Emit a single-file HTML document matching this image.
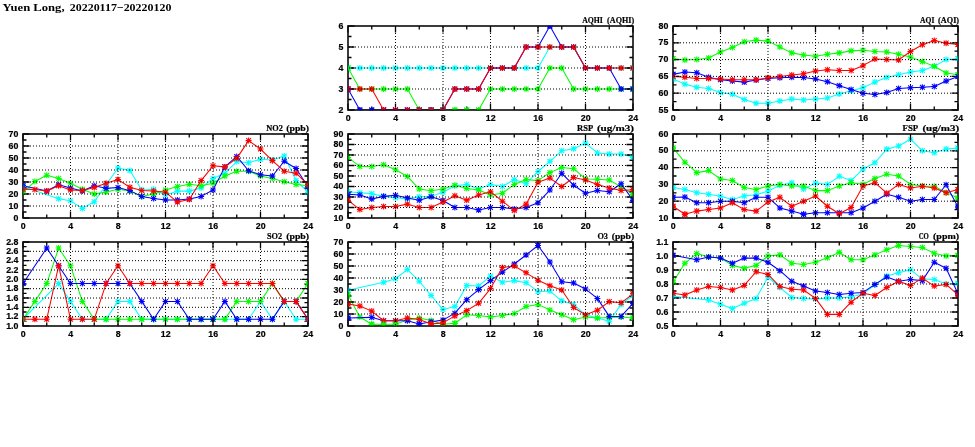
<!DOCTYPE html>
<html><head><meta charset="utf-8"><title>Yuen Long</title>
<style>
html,body{margin:0;padding:0;background:#fff;}
body{width:975px;height:447px;overflow:hidden;}
svg{display:block;will-change:transform;}
.t{font-family:"Liberation Sans",sans-serif;font-weight:bold;font-size:8.8px;fill:#000;stroke:#000;stroke-width:0.2;}
.p{font-family:"Liberation Serif",serif;font-weight:bold;font-size:8.8px;fill:#000;stroke:#000;stroke-width:0.2;}
.h{font-family:"Liberation Serif",serif;font-weight:bold;font-size:11.3px;fill:#000;}
.g{stroke:#000;stroke-width:1;stroke-dasharray:1 2;fill:none;}
.k{stroke:#000;stroke-width:1.3;fill:none;}
.b{stroke:#0a0a0a;stroke-width:1.6;fill:none;}
</style></head><body>
<svg width="975" height="447" viewBox="0 0 975 447">
<rect x="0" y="0" width="975" height="447" fill="#ffffff"/>
<defs>
<clipPath id="c_AQHI"><rect x="347.8" y="25.8" width="285.4" height="84.4"/></clipPath>
<clipPath id="e_AQHI"><rect x="348.45" y="26.45" width="284.1" height="83.1"/></clipPath>
<clipPath id="c_AQI"><rect x="672.8" y="25.8" width="285.4" height="84.4"/></clipPath>
<clipPath id="e_AQI"><rect x="673.45" y="26.45" width="284.1" height="83.1"/></clipPath>
<clipPath id="c_NO2"><rect x="22.8" y="133.8" width="285.4" height="84.4"/></clipPath>
<clipPath id="e_NO2"><rect x="23.45" y="134.45" width="284.1" height="83.1"/></clipPath>
<clipPath id="c_RSP"><rect x="347.8" y="133.8" width="285.4" height="84.4"/></clipPath>
<clipPath id="e_RSP"><rect x="348.45" y="134.45" width="284.1" height="83.1"/></clipPath>
<clipPath id="c_FSP"><rect x="672.8" y="133.8" width="285.4" height="84.4"/></clipPath>
<clipPath id="e_FSP"><rect x="673.45" y="134.45" width="284.1" height="83.1"/></clipPath>
<clipPath id="c_SO2"><rect x="22.8" y="241.8" width="285.4" height="84.4"/></clipPath>
<clipPath id="e_SO2"><rect x="23.45" y="242.45" width="284.1" height="83.1"/></clipPath>
<clipPath id="c_O3"><rect x="347.8" y="241.8" width="285.4" height="84.4"/></clipPath>
<clipPath id="e_O3"><rect x="348.45" y="242.45" width="284.1" height="83.1"/></clipPath>
<clipPath id="c_CO"><rect x="672.8" y="241.8" width="285.4" height="84.4"/></clipPath>
<clipPath id="e_CO"><rect x="673.45" y="242.45" width="284.1" height="83.1"/></clipPath>
</defs>
<text class="h" x="2.6" y="10.5" textLength="62" lengthAdjust="spacingAndGlyphs">Yuen Long,</text>
<text class="h" x="69.8" y="10.5" textLength="101.6" lengthAdjust="spacingAndGlyphs">20220117&#8722;20220120</text>
<g id="panel_AQHI">
<g clip-path="url(#c_AQHI)">
<polyline fill="none" stroke="#00ffff" stroke-width="1.05" stroke-linejoin="round" points="348,68 359.88,68 371.75,68 383.62,68 395.5,68 407.38,68 419.25,68 431.12,68 443,68 454.88,68 466.75,68 478.62,68 490.5,68 502.38,68 514.25,68 526.12,68 538,68 549.88,47 561.75,47 573.62,47 585.5,68 597.38,68 609.25,68 621.12,68 633,68"/>
<path fill="none" stroke="#00ffff" stroke-width="1.05" d="M348 68m-3 0h6m-3-3v6m-2.4-5.4l4.8 4.8m-4.8 0l4.8-4.8M359.88 68m-3 0h6m-3-3v6m-2.4-5.4l4.8 4.8m-4.8 0l4.8-4.8M371.75 68m-3 0h6m-3-3v6m-2.4-5.4l4.8 4.8m-4.8 0l4.8-4.8M383.62 68m-3 0h6m-3-3v6m-2.4-5.4l4.8 4.8m-4.8 0l4.8-4.8M395.5 68m-3 0h6m-3-3v6m-2.4-5.4l4.8 4.8m-4.8 0l4.8-4.8M407.38 68m-3 0h6m-3-3v6m-2.4-5.4l4.8 4.8m-4.8 0l4.8-4.8M419.25 68m-3 0h6m-3-3v6m-2.4-5.4l4.8 4.8m-4.8 0l4.8-4.8M431.12 68m-3 0h6m-3-3v6m-2.4-5.4l4.8 4.8m-4.8 0l4.8-4.8M443 68m-3 0h6m-3-3v6m-2.4-5.4l4.8 4.8m-4.8 0l4.8-4.8M454.88 68m-3 0h6m-3-3v6m-2.4-5.4l4.8 4.8m-4.8 0l4.8-4.8M466.75 68m-3 0h6m-3-3v6m-2.4-5.4l4.8 4.8m-4.8 0l4.8-4.8M478.62 68m-3 0h6m-3-3v6m-2.4-5.4l4.8 4.8m-4.8 0l4.8-4.8M490.5 68m-3 0h6m-3-3v6m-2.4-5.4l4.8 4.8m-4.8 0l4.8-4.8M502.38 68m-3 0h6m-3-3v6m-2.4-5.4l4.8 4.8m-4.8 0l4.8-4.8M514.25 68m-3 0h6m-3-3v6m-2.4-5.4l4.8 4.8m-4.8 0l4.8-4.8M526.12 68m-3 0h6m-3-3v6m-2.4-5.4l4.8 4.8m-4.8 0l4.8-4.8M538 68m-3 0h6m-3-3v6m-2.4-5.4l4.8 4.8m-4.8 0l4.8-4.8M549.88 47m-3 0h6m-3-3v6m-2.4-5.4l4.8 4.8m-4.8 0l4.8-4.8M561.75 47m-3 0h6m-3-3v6m-2.4-5.4l4.8 4.8m-4.8 0l4.8-4.8M573.62 47m-3 0h6m-3-3v6m-2.4-5.4l4.8 4.8m-4.8 0l4.8-4.8M585.5 68m-3 0h6m-3-3v6m-2.4-5.4l4.8 4.8m-4.8 0l4.8-4.8M597.38 68m-3 0h6m-3-3v6m-2.4-5.4l4.8 4.8m-4.8 0l4.8-4.8M609.25 68m-3 0h6m-3-3v6m-2.4-5.4l4.8 4.8m-4.8 0l4.8-4.8M621.12 68m-3 0h6m-3-3v6m-2.4-5.4l4.8 4.8m-4.8 0l4.8-4.8M633 68m-3 0h6m-3-3v6m-2.4-5.4l4.8 4.8m-4.8 0l4.8-4.8"/>
<polyline fill="none" stroke="#00ff00" stroke-width="1.05" stroke-linejoin="round" points="348,68 359.88,89 371.75,89 383.62,89 395.5,89 407.38,89 419.25,110 431.12,110 443,110 454.88,110 466.75,110 478.62,110 490.5,89 502.38,89 514.25,89 526.12,89 538,89 549.88,68 561.75,68 573.62,89 585.5,89 597.38,89 609.25,89 621.12,89 633,89"/>
<path fill="none" stroke="#00ff00" stroke-width="1.05" d="M348 68m-3 0h6m-3-3v6m-2.4-5.4l4.8 4.8m-4.8 0l4.8-4.8M359.88 89m-3 0h6m-3-3v6m-2.4-5.4l4.8 4.8m-4.8 0l4.8-4.8M371.75 89m-3 0h6m-3-3v6m-2.4-5.4l4.8 4.8m-4.8 0l4.8-4.8M383.62 89m-3 0h6m-3-3v6m-2.4-5.4l4.8 4.8m-4.8 0l4.8-4.8M395.5 89m-3 0h6m-3-3v6m-2.4-5.4l4.8 4.8m-4.8 0l4.8-4.8M407.38 89m-3 0h6m-3-3v6m-2.4-5.4l4.8 4.8m-4.8 0l4.8-4.8M419.25 110m-3 0h6m-3-3v6m-2.4-5.4l4.8 4.8m-4.8 0l4.8-4.8M431.12 110m-3 0h6m-3-3v6m-2.4-5.4l4.8 4.8m-4.8 0l4.8-4.8M443 110m-3 0h6m-3-3v6m-2.4-5.4l4.8 4.8m-4.8 0l4.8-4.8M454.88 110m-3 0h6m-3-3v6m-2.4-5.4l4.8 4.8m-4.8 0l4.8-4.8M466.75 110m-3 0h6m-3-3v6m-2.4-5.4l4.8 4.8m-4.8 0l4.8-4.8M478.62 110m-3 0h6m-3-3v6m-2.4-5.4l4.8 4.8m-4.8 0l4.8-4.8M490.5 89m-3 0h6m-3-3v6m-2.4-5.4l4.8 4.8m-4.8 0l4.8-4.8M502.38 89m-3 0h6m-3-3v6m-2.4-5.4l4.8 4.8m-4.8 0l4.8-4.8M514.25 89m-3 0h6m-3-3v6m-2.4-5.4l4.8 4.8m-4.8 0l4.8-4.8M526.12 89m-3 0h6m-3-3v6m-2.4-5.4l4.8 4.8m-4.8 0l4.8-4.8M538 89m-3 0h6m-3-3v6m-2.4-5.4l4.8 4.8m-4.8 0l4.8-4.8M549.88 68m-3 0h6m-3-3v6m-2.4-5.4l4.8 4.8m-4.8 0l4.8-4.8M561.75 68m-3 0h6m-3-3v6m-2.4-5.4l4.8 4.8m-4.8 0l4.8-4.8M573.62 89m-3 0h6m-3-3v6m-2.4-5.4l4.8 4.8m-4.8 0l4.8-4.8M585.5 89m-3 0h6m-3-3v6m-2.4-5.4l4.8 4.8m-4.8 0l4.8-4.8M597.38 89m-3 0h6m-3-3v6m-2.4-5.4l4.8 4.8m-4.8 0l4.8-4.8M609.25 89m-3 0h6m-3-3v6m-2.4-5.4l4.8 4.8m-4.8 0l4.8-4.8M621.12 89m-3 0h6m-3-3v6m-2.4-5.4l4.8 4.8m-4.8 0l4.8-4.8M633 89m-3 0h6m-3-3v6m-2.4-5.4l4.8 4.8m-4.8 0l4.8-4.8"/>
<polyline fill="none" stroke="#0000ff" stroke-width="1.05" stroke-linejoin="round" points="348,89 359.88,110 371.75,110 383.62,110 395.5,110 407.38,110 419.25,110 431.12,110 443,110 454.88,89 466.75,89 478.62,89 490.5,68 502.38,68 514.25,68 526.12,47 538,47 549.88,26 561.75,47 573.62,47 585.5,68 597.38,68 609.25,68 621.12,89 633,89"/>
<path fill="none" stroke="#0000ff" stroke-width="1.05" d="M348 89m-3 0h6m-3-3v6m-2.4-5.4l4.8 4.8m-4.8 0l4.8-4.8M359.88 110m-3 0h6m-3-3v6m-2.4-5.4l4.8 4.8m-4.8 0l4.8-4.8M371.75 110m-3 0h6m-3-3v6m-2.4-5.4l4.8 4.8m-4.8 0l4.8-4.8M383.62 110m-3 0h6m-3-3v6m-2.4-5.4l4.8 4.8m-4.8 0l4.8-4.8M395.5 110m-3 0h6m-3-3v6m-2.4-5.4l4.8 4.8m-4.8 0l4.8-4.8M407.38 110m-3 0h6m-3-3v6m-2.4-5.4l4.8 4.8m-4.8 0l4.8-4.8M419.25 110m-3 0h6m-3-3v6m-2.4-5.4l4.8 4.8m-4.8 0l4.8-4.8M431.12 110m-3 0h6m-3-3v6m-2.4-5.4l4.8 4.8m-4.8 0l4.8-4.8M443 110m-3 0h6m-3-3v6m-2.4-5.4l4.8 4.8m-4.8 0l4.8-4.8M454.88 89m-3 0h6m-3-3v6m-2.4-5.4l4.8 4.8m-4.8 0l4.8-4.8M466.75 89m-3 0h6m-3-3v6m-2.4-5.4l4.8 4.8m-4.8 0l4.8-4.8M478.62 89m-3 0h6m-3-3v6m-2.4-5.4l4.8 4.8m-4.8 0l4.8-4.8M490.5 68m-3 0h6m-3-3v6m-2.4-5.4l4.8 4.8m-4.8 0l4.8-4.8M502.38 68m-3 0h6m-3-3v6m-2.4-5.4l4.8 4.8m-4.8 0l4.8-4.8M514.25 68m-3 0h6m-3-3v6m-2.4-5.4l4.8 4.8m-4.8 0l4.8-4.8M526.12 47m-3 0h6m-3-3v6m-2.4-5.4l4.8 4.8m-4.8 0l4.8-4.8M538 47m-3 0h6m-3-3v6m-2.4-5.4l4.8 4.8m-4.8 0l4.8-4.8M549.88 26m-3 0h6m-3-3v6m-2.4-5.4l4.8 4.8m-4.8 0l4.8-4.8M561.75 47m-3 0h6m-3-3v6m-2.4-5.4l4.8 4.8m-4.8 0l4.8-4.8M573.62 47m-3 0h6m-3-3v6m-2.4-5.4l4.8 4.8m-4.8 0l4.8-4.8M585.5 68m-3 0h6m-3-3v6m-2.4-5.4l4.8 4.8m-4.8 0l4.8-4.8M597.38 68m-3 0h6m-3-3v6m-2.4-5.4l4.8 4.8m-4.8 0l4.8-4.8M609.25 68m-3 0h6m-3-3v6m-2.4-5.4l4.8 4.8m-4.8 0l4.8-4.8M621.12 89m-3 0h6m-3-3v6m-2.4-5.4l4.8 4.8m-4.8 0l4.8-4.8M633 89m-3 0h6m-3-3v6m-2.4-5.4l4.8 4.8m-4.8 0l4.8-4.8"/>
<polyline fill="none" stroke="#ff0000" stroke-width="1.05" stroke-linejoin="round" points="348,89 359.88,89 371.75,89 383.62,110 395.5,110 407.38,110 419.25,110 431.12,110 443,110 454.88,89 466.75,89 478.62,89 490.5,68 502.38,68 514.25,68 526.12,47 538,47 549.88,47 561.75,47 573.62,47 585.5,68 597.38,68 609.25,68 621.12,68 633,68"/>
<path fill="none" stroke="#ff0000" stroke-width="1.05" d="M348 89m-3 0h6m-3-3v6m-2.4-5.4l4.8 4.8m-4.8 0l4.8-4.8M359.88 89m-3 0h6m-3-3v6m-2.4-5.4l4.8 4.8m-4.8 0l4.8-4.8M371.75 89m-3 0h6m-3-3v6m-2.4-5.4l4.8 4.8m-4.8 0l4.8-4.8M383.62 110m-3 0h6m-3-3v6m-2.4-5.4l4.8 4.8m-4.8 0l4.8-4.8M395.5 110m-3 0h6m-3-3v6m-2.4-5.4l4.8 4.8m-4.8 0l4.8-4.8M407.38 110m-3 0h6m-3-3v6m-2.4-5.4l4.8 4.8m-4.8 0l4.8-4.8M419.25 110m-3 0h6m-3-3v6m-2.4-5.4l4.8 4.8m-4.8 0l4.8-4.8M431.12 110m-3 0h6m-3-3v6m-2.4-5.4l4.8 4.8m-4.8 0l4.8-4.8M443 110m-3 0h6m-3-3v6m-2.4-5.4l4.8 4.8m-4.8 0l4.8-4.8M454.88 89m-3 0h6m-3-3v6m-2.4-5.4l4.8 4.8m-4.8 0l4.8-4.8M466.75 89m-3 0h6m-3-3v6m-2.4-5.4l4.8 4.8m-4.8 0l4.8-4.8M478.62 89m-3 0h6m-3-3v6m-2.4-5.4l4.8 4.8m-4.8 0l4.8-4.8M490.5 68m-3 0h6m-3-3v6m-2.4-5.4l4.8 4.8m-4.8 0l4.8-4.8M502.38 68m-3 0h6m-3-3v6m-2.4-5.4l4.8 4.8m-4.8 0l4.8-4.8M514.25 68m-3 0h6m-3-3v6m-2.4-5.4l4.8 4.8m-4.8 0l4.8-4.8M526.12 47m-3 0h6m-3-3v6m-2.4-5.4l4.8 4.8m-4.8 0l4.8-4.8M538 47m-3 0h6m-3-3v6m-2.4-5.4l4.8 4.8m-4.8 0l4.8-4.8M549.88 47m-3 0h6m-3-3v6m-2.4-5.4l4.8 4.8m-4.8 0l4.8-4.8M561.75 47m-3 0h6m-3-3v6m-2.4-5.4l4.8 4.8m-4.8 0l4.8-4.8M573.62 47m-3 0h6m-3-3v6m-2.4-5.4l4.8 4.8m-4.8 0l4.8-4.8M585.5 68m-3 0h6m-3-3v6m-2.4-5.4l4.8 4.8m-4.8 0l4.8-4.8M597.38 68m-3 0h6m-3-3v6m-2.4-5.4l4.8 4.8m-4.8 0l4.8-4.8M609.25 68m-3 0h6m-3-3v6m-2.4-5.4l4.8 4.8m-4.8 0l4.8-4.8M621.12 68m-3 0h6m-3-3v6m-2.4-5.4l4.8 4.8m-4.8 0l4.8-4.8M633 68m-3 0h6m-3-3v6m-2.4-5.4l4.8 4.8m-4.8 0l4.8-4.8"/>
</g>
<path class="k" d="M348 110h6.5M633 110h-6.5M348 99.5h3.5M633 99.5h-3.5M348 89h6.5M633 89h-6.5M348 78.5h3.5M633 78.5h-3.5M348 68h6.5M633 68h-6.5M348 57.5h3.5M633 57.5h-3.5M348 47h6.5M633 47h-6.5M348 36.5h3.5M633 36.5h-3.5M348 26h6.5M633 26h-6.5M348 26v6.5M348 110v-6.5M371.75 26v3.5M371.75 110v-3.5M395.5 26v6.5M395.5 110v-6.5M419.25 26v3.5M419.25 110v-3.5M443 26v6.5M443 110v-6.5M466.75 26v3.5M466.75 110v-3.5M490.5 26v6.5M490.5 110v-6.5M514.25 26v3.5M514.25 110v-3.5M538 26v6.5M538 110v-6.5M561.75 26v3.5M561.75 110v-3.5M585.5 26v6.5M585.5 110v-6.5M609.25 26v3.5M609.25 110v-3.5M633 26v6.5M633 110v-6.5"/>
<rect class="b" x="348" y="26" width="285" height="84"/>
<g clip-path="url(#e_AQHI)">
<path fill="none" stroke="#00ffff" stroke-width="1.05" d="M348 68m-3 0h6m-3-3v6m-2.4-5.4l4.8 4.8m-4.8 0l4.8-4.8M633 68m-3 0h6m-3-3v6m-2.4-5.4l4.8 4.8m-4.8 0l4.8-4.8"/>
<path fill="none" stroke="#00ff00" stroke-width="1.05" d="M348 68m-3 0h6m-3-3v6m-2.4-5.4l4.8 4.8m-4.8 0l4.8-4.8M419.25 110m-3 0h6m-3-3v6m-2.4-5.4l4.8 4.8m-4.8 0l4.8-4.8M431.12 110m-3 0h6m-3-3v6m-2.4-5.4l4.8 4.8m-4.8 0l4.8-4.8M443 110m-3 0h6m-3-3v6m-2.4-5.4l4.8 4.8m-4.8 0l4.8-4.8M454.88 110m-3 0h6m-3-3v6m-2.4-5.4l4.8 4.8m-4.8 0l4.8-4.8M466.75 110m-3 0h6m-3-3v6m-2.4-5.4l4.8 4.8m-4.8 0l4.8-4.8M478.62 110m-3 0h6m-3-3v6m-2.4-5.4l4.8 4.8m-4.8 0l4.8-4.8M633 89m-3 0h6m-3-3v6m-2.4-5.4l4.8 4.8m-4.8 0l4.8-4.8"/>
<path fill="none" stroke="#0000ff" stroke-width="1.05" d="M348 89m-3 0h6m-3-3v6m-2.4-5.4l4.8 4.8m-4.8 0l4.8-4.8M359.88 110m-3 0h6m-3-3v6m-2.4-5.4l4.8 4.8m-4.8 0l4.8-4.8M371.75 110m-3 0h6m-3-3v6m-2.4-5.4l4.8 4.8m-4.8 0l4.8-4.8M383.62 110m-3 0h6m-3-3v6m-2.4-5.4l4.8 4.8m-4.8 0l4.8-4.8M395.5 110m-3 0h6m-3-3v6m-2.4-5.4l4.8 4.8m-4.8 0l4.8-4.8M407.38 110m-3 0h6m-3-3v6m-2.4-5.4l4.8 4.8m-4.8 0l4.8-4.8M419.25 110m-3 0h6m-3-3v6m-2.4-5.4l4.8 4.8m-4.8 0l4.8-4.8M431.12 110m-3 0h6m-3-3v6m-2.4-5.4l4.8 4.8m-4.8 0l4.8-4.8M443 110m-3 0h6m-3-3v6m-2.4-5.4l4.8 4.8m-4.8 0l4.8-4.8M549.88 26m-3 0h6m-3-3v6m-2.4-5.4l4.8 4.8m-4.8 0l4.8-4.8M633 89m-3 0h6m-3-3v6m-2.4-5.4l4.8 4.8m-4.8 0l4.8-4.8"/>
<path fill="none" stroke="#ff0000" stroke-width="1.05" d="M348 89m-3 0h6m-3-3v6m-2.4-5.4l4.8 4.8m-4.8 0l4.8-4.8M383.62 110m-3 0h6m-3-3v6m-2.4-5.4l4.8 4.8m-4.8 0l4.8-4.8M395.5 110m-3 0h6m-3-3v6m-2.4-5.4l4.8 4.8m-4.8 0l4.8-4.8M407.38 110m-3 0h6m-3-3v6m-2.4-5.4l4.8 4.8m-4.8 0l4.8-4.8M419.25 110m-3 0h6m-3-3v6m-2.4-5.4l4.8 4.8m-4.8 0l4.8-4.8M431.12 110m-3 0h6m-3-3v6m-2.4-5.4l4.8 4.8m-4.8 0l4.8-4.8M443 110m-3 0h6m-3-3v6m-2.4-5.4l4.8 4.8m-4.8 0l4.8-4.8M633 68m-3 0h6m-3-3v6m-2.4-5.4l4.8 4.8m-4.8 0l4.8-4.8"/>
</g>
<path class="g" d="M349 89H632M349 68H632M349 47H632M395.5 27V109M443 27V109M490.5 27V109M538 27V109M585.5 27V109"/>
<text class="t" text-anchor="end" x="343.4" y="112.55">2</text><text class="t" text-anchor="end" x="343.4" y="91.55">3</text><text class="t" text-anchor="end" x="343.4" y="70.55">4</text><text class="t" text-anchor="end" x="343.4" y="49.55">5</text><text class="t" text-anchor="end" x="343.4" y="28.55">6</text>
<text class="t" text-anchor="middle" x="348.2" y="120.8">0</text><text class="t" text-anchor="middle" x="395.7" y="120.8">4</text><text class="t" text-anchor="middle" x="443.2" y="120.8">8</text><text class="t" text-anchor="middle" x="490.7" y="120.8">12</text><text class="t" text-anchor="middle" x="538.2" y="120.8">16</text><text class="t" text-anchor="middle" x="585.7" y="120.8">20</text><text class="t" text-anchor="middle" x="633.2" y="120.8">24</text>
<text class="p" x="582.2" y="22.5" textLength="20.7" lengthAdjust="spacingAndGlyphs">AQHI</text><text class="p" x="607.1" y="22.5" textLength="27" lengthAdjust="spacingAndGlyphs">(AQHI)</text>
</g>
<g id="panel_AQI">
<g clip-path="url(#c_AQI)">
<polyline fill="none" stroke="#00ffff" stroke-width="1.05" stroke-linejoin="round" points="673,78.92 684.88,84.13 696.75,87.32 708.62,88.5 720.5,92.53 732.38,94.21 744.25,99.58 756.12,103.28 768,103.28 779.88,100.93 791.75,98.91 803.62,99.92 815.5,98.91 827.38,97.9 839.25,94.04 851.12,90.85 863,87.82 874.88,82.11 886.75,77.41 898.62,74.72 910.5,72.03 922.38,70.52 934.25,66.32 946.12,59.6 958,58.59"/>
<path fill="none" stroke="#00ffff" stroke-width="1.05" d="M673 78.92m-3 0h6m-3-3v6m-2.4-5.4l4.8 4.8m-4.8 0l4.8-4.8M684.88 84.13m-3 0h6m-3-3v6m-2.4-5.4l4.8 4.8m-4.8 0l4.8-4.8M696.75 87.32m-3 0h6m-3-3v6m-2.4-5.4l4.8 4.8m-4.8 0l4.8-4.8M708.62 88.5m-3 0h6m-3-3v6m-2.4-5.4l4.8 4.8m-4.8 0l4.8-4.8M720.5 92.53m-3 0h6m-3-3v6m-2.4-5.4l4.8 4.8m-4.8 0l4.8-4.8M732.38 94.21m-3 0h6m-3-3v6m-2.4-5.4l4.8 4.8m-4.8 0l4.8-4.8M744.25 99.58m-3 0h6m-3-3v6m-2.4-5.4l4.8 4.8m-4.8 0l4.8-4.8M756.12 103.28m-3 0h6m-3-3v6m-2.4-5.4l4.8 4.8m-4.8 0l4.8-4.8M768 103.28m-3 0h6m-3-3v6m-2.4-5.4l4.8 4.8m-4.8 0l4.8-4.8M779.88 100.93m-3 0h6m-3-3v6m-2.4-5.4l4.8 4.8m-4.8 0l4.8-4.8M791.75 98.91m-3 0h6m-3-3v6m-2.4-5.4l4.8 4.8m-4.8 0l4.8-4.8M803.62 99.92m-3 0h6m-3-3v6m-2.4-5.4l4.8 4.8m-4.8 0l4.8-4.8M815.5 98.91m-3 0h6m-3-3v6m-2.4-5.4l4.8 4.8m-4.8 0l4.8-4.8M827.38 97.9m-3 0h6m-3-3v6m-2.4-5.4l4.8 4.8m-4.8 0l4.8-4.8M839.25 94.04m-3 0h6m-3-3v6m-2.4-5.4l4.8 4.8m-4.8 0l4.8-4.8M851.12 90.85m-3 0h6m-3-3v6m-2.4-5.4l4.8 4.8m-4.8 0l4.8-4.8M863 87.82m-3 0h6m-3-3v6m-2.4-5.4l4.8 4.8m-4.8 0l4.8-4.8M874.88 82.11m-3 0h6m-3-3v6m-2.4-5.4l4.8 4.8m-4.8 0l4.8-4.8M886.75 77.41m-3 0h6m-3-3v6m-2.4-5.4l4.8 4.8m-4.8 0l4.8-4.8M898.62 74.72m-3 0h6m-3-3v6m-2.4-5.4l4.8 4.8m-4.8 0l4.8-4.8M910.5 72.03m-3 0h6m-3-3v6m-2.4-5.4l4.8 4.8m-4.8 0l4.8-4.8M922.38 70.52m-3 0h6m-3-3v6m-2.4-5.4l4.8 4.8m-4.8 0l4.8-4.8M934.25 66.32m-3 0h6m-3-3v6m-2.4-5.4l4.8 4.8m-4.8 0l4.8-4.8M946.12 59.6m-3 0h6m-3-3v6m-2.4-5.4l4.8 4.8m-4.8 0l4.8-4.8M958 58.59m-3 0h6m-3-3v6m-2.4-5.4l4.8 4.8m-4.8 0l4.8-4.8"/>
<polyline fill="none" stroke="#00ff00" stroke-width="1.05" stroke-linejoin="round" points="673,58.59 684.88,59.94 696.75,59.6 708.62,57.92 720.5,52.04 732.38,47.5 744.25,41.79 756.12,40.11 768,41.12 779.88,47 791.75,52.88 803.62,54.9 815.5,56.24 827.38,54.22 839.25,52.88 851.12,50.86 863,50.19 874.88,51.54 886.75,52.04 898.62,54.22 910.5,56.91 922.38,61.62 934.25,66.32 946.12,73.04 958,74.72"/>
<path fill="none" stroke="#00ff00" stroke-width="1.05" d="M673 58.59m-3 0h6m-3-3v6m-2.4-5.4l4.8 4.8m-4.8 0l4.8-4.8M684.88 59.94m-3 0h6m-3-3v6m-2.4-5.4l4.8 4.8m-4.8 0l4.8-4.8M696.75 59.6m-3 0h6m-3-3v6m-2.4-5.4l4.8 4.8m-4.8 0l4.8-4.8M708.62 57.92m-3 0h6m-3-3v6m-2.4-5.4l4.8 4.8m-4.8 0l4.8-4.8M720.5 52.04m-3 0h6m-3-3v6m-2.4-5.4l4.8 4.8m-4.8 0l4.8-4.8M732.38 47.5m-3 0h6m-3-3v6m-2.4-5.4l4.8 4.8m-4.8 0l4.8-4.8M744.25 41.79m-3 0h6m-3-3v6m-2.4-5.4l4.8 4.8m-4.8 0l4.8-4.8M756.12 40.11m-3 0h6m-3-3v6m-2.4-5.4l4.8 4.8m-4.8 0l4.8-4.8M768 41.12m-3 0h6m-3-3v6m-2.4-5.4l4.8 4.8m-4.8 0l4.8-4.8M779.88 47m-3 0h6m-3-3v6m-2.4-5.4l4.8 4.8m-4.8 0l4.8-4.8M791.75 52.88m-3 0h6m-3-3v6m-2.4-5.4l4.8 4.8m-4.8 0l4.8-4.8M803.62 54.9m-3 0h6m-3-3v6m-2.4-5.4l4.8 4.8m-4.8 0l4.8-4.8M815.5 56.24m-3 0h6m-3-3v6m-2.4-5.4l4.8 4.8m-4.8 0l4.8-4.8M827.38 54.22m-3 0h6m-3-3v6m-2.4-5.4l4.8 4.8m-4.8 0l4.8-4.8M839.25 52.88m-3 0h6m-3-3v6m-2.4-5.4l4.8 4.8m-4.8 0l4.8-4.8M851.12 50.86m-3 0h6m-3-3v6m-2.4-5.4l4.8 4.8m-4.8 0l4.8-4.8M863 50.19m-3 0h6m-3-3v6m-2.4-5.4l4.8 4.8m-4.8 0l4.8-4.8M874.88 51.54m-3 0h6m-3-3v6m-2.4-5.4l4.8 4.8m-4.8 0l4.8-4.8M886.75 52.04m-3 0h6m-3-3v6m-2.4-5.4l4.8 4.8m-4.8 0l4.8-4.8M898.62 54.22m-3 0h6m-3-3v6m-2.4-5.4l4.8 4.8m-4.8 0l4.8-4.8M910.5 56.91m-3 0h6m-3-3v6m-2.4-5.4l4.8 4.8m-4.8 0l4.8-4.8M922.38 61.62m-3 0h6m-3-3v6m-2.4-5.4l4.8 4.8m-4.8 0l4.8-4.8M934.25 66.32m-3 0h6m-3-3v6m-2.4-5.4l4.8 4.8m-4.8 0l4.8-4.8M946.12 73.04m-3 0h6m-3-3v6m-2.4-5.4l4.8 4.8m-4.8 0l4.8-4.8M958 74.72m-3 0h6m-3-3v6m-2.4-5.4l4.8 4.8m-4.8 0l4.8-4.8"/>
<polyline fill="none" stroke="#0000ff" stroke-width="1.05" stroke-linejoin="round" points="673,74.38 684.88,72.03 696.75,72.7 708.62,77.24 720.5,79.76 732.38,81.1 744.25,82.11 756.12,80.1 768,78.42 779.88,77.74 791.75,77.24 803.62,77.41 815.5,78.92 827.38,81.78 839.25,85.64 851.12,89.5 863,93.2 874.88,94.54 886.75,92.53 898.62,88.5 910.5,87.82 922.38,87.32 934.25,86.48 946.12,81.1 958,76.4"/>
<path fill="none" stroke="#0000ff" stroke-width="1.05" d="M673 74.38m-3 0h6m-3-3v6m-2.4-5.4l4.8 4.8m-4.8 0l4.8-4.8M684.88 72.03m-3 0h6m-3-3v6m-2.4-5.4l4.8 4.8m-4.8 0l4.8-4.8M696.75 72.7m-3 0h6m-3-3v6m-2.4-5.4l4.8 4.8m-4.8 0l4.8-4.8M708.62 77.24m-3 0h6m-3-3v6m-2.4-5.4l4.8 4.8m-4.8 0l4.8-4.8M720.5 79.76m-3 0h6m-3-3v6m-2.4-5.4l4.8 4.8m-4.8 0l4.8-4.8M732.38 81.1m-3 0h6m-3-3v6m-2.4-5.4l4.8 4.8m-4.8 0l4.8-4.8M744.25 82.11m-3 0h6m-3-3v6m-2.4-5.4l4.8 4.8m-4.8 0l4.8-4.8M756.12 80.1m-3 0h6m-3-3v6m-2.4-5.4l4.8 4.8m-4.8 0l4.8-4.8M768 78.42m-3 0h6m-3-3v6m-2.4-5.4l4.8 4.8m-4.8 0l4.8-4.8M779.88 77.74m-3 0h6m-3-3v6m-2.4-5.4l4.8 4.8m-4.8 0l4.8-4.8M791.75 77.24m-3 0h6m-3-3v6m-2.4-5.4l4.8 4.8m-4.8 0l4.8-4.8M803.62 77.41m-3 0h6m-3-3v6m-2.4-5.4l4.8 4.8m-4.8 0l4.8-4.8M815.5 78.92m-3 0h6m-3-3v6m-2.4-5.4l4.8 4.8m-4.8 0l4.8-4.8M827.38 81.78m-3 0h6m-3-3v6m-2.4-5.4l4.8 4.8m-4.8 0l4.8-4.8M839.25 85.64m-3 0h6m-3-3v6m-2.4-5.4l4.8 4.8m-4.8 0l4.8-4.8M851.12 89.5m-3 0h6m-3-3v6m-2.4-5.4l4.8 4.8m-4.8 0l4.8-4.8M863 93.2m-3 0h6m-3-3v6m-2.4-5.4l4.8 4.8m-4.8 0l4.8-4.8M874.88 94.54m-3 0h6m-3-3v6m-2.4-5.4l4.8 4.8m-4.8 0l4.8-4.8M886.75 92.53m-3 0h6m-3-3v6m-2.4-5.4l4.8 4.8m-4.8 0l4.8-4.8M898.62 88.5m-3 0h6m-3-3v6m-2.4-5.4l4.8 4.8m-4.8 0l4.8-4.8M910.5 87.82m-3 0h6m-3-3v6m-2.4-5.4l4.8 4.8m-4.8 0l4.8-4.8M922.38 87.32m-3 0h6m-3-3v6m-2.4-5.4l4.8 4.8m-4.8 0l4.8-4.8M934.25 86.48m-3 0h6m-3-3v6m-2.4-5.4l4.8 4.8m-4.8 0l4.8-4.8M946.12 81.1m-3 0h6m-3-3v6m-2.4-5.4l4.8 4.8m-4.8 0l4.8-4.8M958 76.4m-3 0h6m-3-3v6m-2.4-5.4l4.8 4.8m-4.8 0l4.8-4.8"/>
<polyline fill="none" stroke="#ff0000" stroke-width="1.05" stroke-linejoin="round" points="673,76.4 684.88,77.24 696.75,78.42 708.62,78.42 720.5,78.92 732.38,79.76 744.25,79.76 756.12,79.76 768,77.74 779.88,76.4 791.75,75.06 803.62,73.71 815.5,71.02 827.38,69.68 839.25,70.52 851.12,70.52 863,65.65 874.88,58.93 886.75,59.6 898.62,59.94 910.5,51.54 922.38,44.82 934.25,40.45 946.12,43.14 958,44.48"/>
<path fill="none" stroke="#ff0000" stroke-width="1.05" d="M673 76.4m-3 0h6m-3-3v6m-2.4-5.4l4.8 4.8m-4.8 0l4.8-4.8M684.88 77.24m-3 0h6m-3-3v6m-2.4-5.4l4.8 4.8m-4.8 0l4.8-4.8M696.75 78.42m-3 0h6m-3-3v6m-2.4-5.4l4.8 4.8m-4.8 0l4.8-4.8M708.62 78.42m-3 0h6m-3-3v6m-2.4-5.4l4.8 4.8m-4.8 0l4.8-4.8M720.5 78.92m-3 0h6m-3-3v6m-2.4-5.4l4.8 4.8m-4.8 0l4.8-4.8M732.38 79.76m-3 0h6m-3-3v6m-2.4-5.4l4.8 4.8m-4.8 0l4.8-4.8M744.25 79.76m-3 0h6m-3-3v6m-2.4-5.4l4.8 4.8m-4.8 0l4.8-4.8M756.12 79.76m-3 0h6m-3-3v6m-2.4-5.4l4.8 4.8m-4.8 0l4.8-4.8M768 77.74m-3 0h6m-3-3v6m-2.4-5.4l4.8 4.8m-4.8 0l4.8-4.8M779.88 76.4m-3 0h6m-3-3v6m-2.4-5.4l4.8 4.8m-4.8 0l4.8-4.8M791.75 75.06m-3 0h6m-3-3v6m-2.4-5.4l4.8 4.8m-4.8 0l4.8-4.8M803.62 73.71m-3 0h6m-3-3v6m-2.4-5.4l4.8 4.8m-4.8 0l4.8-4.8M815.5 71.02m-3 0h6m-3-3v6m-2.4-5.4l4.8 4.8m-4.8 0l4.8-4.8M827.38 69.68m-3 0h6m-3-3v6m-2.4-5.4l4.8 4.8m-4.8 0l4.8-4.8M839.25 70.52m-3 0h6m-3-3v6m-2.4-5.4l4.8 4.8m-4.8 0l4.8-4.8M851.12 70.52m-3 0h6m-3-3v6m-2.4-5.4l4.8 4.8m-4.8 0l4.8-4.8M863 65.65m-3 0h6m-3-3v6m-2.4-5.4l4.8 4.8m-4.8 0l4.8-4.8M874.88 58.93m-3 0h6m-3-3v6m-2.4-5.4l4.8 4.8m-4.8 0l4.8-4.8M886.75 59.6m-3 0h6m-3-3v6m-2.4-5.4l4.8 4.8m-4.8 0l4.8-4.8M898.62 59.94m-3 0h6m-3-3v6m-2.4-5.4l4.8 4.8m-4.8 0l4.8-4.8M910.5 51.54m-3 0h6m-3-3v6m-2.4-5.4l4.8 4.8m-4.8 0l4.8-4.8M922.38 44.82m-3 0h6m-3-3v6m-2.4-5.4l4.8 4.8m-4.8 0l4.8-4.8M934.25 40.45m-3 0h6m-3-3v6m-2.4-5.4l4.8 4.8m-4.8 0l4.8-4.8M946.12 43.14m-3 0h6m-3-3v6m-2.4-5.4l4.8 4.8m-4.8 0l4.8-4.8M958 44.48m-3 0h6m-3-3v6m-2.4-5.4l4.8 4.8m-4.8 0l4.8-4.8"/>
</g>
<path class="k" d="M673 110h6.5M958 110h-6.5M673 101.6h3.5M958 101.6h-3.5M673 93.2h6.5M958 93.2h-6.5M673 84.8h3.5M958 84.8h-3.5M673 76.4h6.5M958 76.4h-6.5M673 68h3.5M958 68h-3.5M673 59.6h6.5M958 59.6h-6.5M673 51.2h3.5M958 51.2h-3.5M673 42.8h6.5M958 42.8h-6.5M673 34.4h3.5M958 34.4h-3.5M673 26h6.5M958 26h-6.5M673 26v6.5M673 110v-6.5M696.75 26v3.5M696.75 110v-3.5M720.5 26v6.5M720.5 110v-6.5M744.25 26v3.5M744.25 110v-3.5M768 26v6.5M768 110v-6.5M791.75 26v3.5M791.75 110v-3.5M815.5 26v6.5M815.5 110v-6.5M839.25 26v3.5M839.25 110v-3.5M863 26v6.5M863 110v-6.5M886.75 26v3.5M886.75 110v-3.5M910.5 26v6.5M910.5 110v-6.5M934.25 26v3.5M934.25 110v-3.5M958 26v6.5M958 110v-6.5"/>
<rect class="b" x="673" y="26" width="285" height="84"/>
<g clip-path="url(#e_AQI)">
<path fill="none" stroke="#00ffff" stroke-width="1.05" d="M673 78.92m-3 0h6m-3-3v6m-2.4-5.4l4.8 4.8m-4.8 0l4.8-4.8M958 58.59m-3 0h6m-3-3v6m-2.4-5.4l4.8 4.8m-4.8 0l4.8-4.8"/>
<path fill="none" stroke="#00ff00" stroke-width="1.05" d="M673 58.59m-3 0h6m-3-3v6m-2.4-5.4l4.8 4.8m-4.8 0l4.8-4.8M958 74.72m-3 0h6m-3-3v6m-2.4-5.4l4.8 4.8m-4.8 0l4.8-4.8"/>
<path fill="none" stroke="#0000ff" stroke-width="1.05" d="M673 74.38m-3 0h6m-3-3v6m-2.4-5.4l4.8 4.8m-4.8 0l4.8-4.8M958 76.4m-3 0h6m-3-3v6m-2.4-5.4l4.8 4.8m-4.8 0l4.8-4.8"/>
<path fill="none" stroke="#ff0000" stroke-width="1.05" d="M673 76.4m-3 0h6m-3-3v6m-2.4-5.4l4.8 4.8m-4.8 0l4.8-4.8M958 44.48m-3 0h6m-3-3v6m-2.4-5.4l4.8 4.8m-4.8 0l4.8-4.8"/>
</g>
<path class="g" d="M674 93.2H957M674 76.4H957M674 59.6H957M674 42.8H957M720.5 27V109M768 27V109M815.5 27V109M863 27V109M910.5 27V109"/>
<text class="t" text-anchor="end" x="668.4" y="112.55">55</text><text class="t" text-anchor="end" x="668.4" y="95.75">60</text><text class="t" text-anchor="end" x="668.4" y="78.95">65</text><text class="t" text-anchor="end" x="668.4" y="62.15">70</text><text class="t" text-anchor="end" x="668.4" y="45.35">75</text><text class="t" text-anchor="end" x="668.4" y="28.55">80</text>
<text class="t" text-anchor="middle" x="673.2" y="120.8">0</text><text class="t" text-anchor="middle" x="720.7" y="120.8">4</text><text class="t" text-anchor="middle" x="768.2" y="120.8">8</text><text class="t" text-anchor="middle" x="815.7" y="120.8">12</text><text class="t" text-anchor="middle" x="863.2" y="120.8">16</text><text class="t" text-anchor="middle" x="910.7" y="120.8">20</text><text class="t" text-anchor="middle" x="958.2" y="120.8">24</text>
<text class="p" x="920.1" y="22.5" textLength="14.3" lengthAdjust="spacingAndGlyphs">AQI</text><text class="p" x="938.1" y="22.5" textLength="21" lengthAdjust="spacingAndGlyphs">(AQI)</text>
</g>
<g id="panel_NO2">
<g clip-path="url(#c_NO2)">
<polyline fill="none" stroke="#00ffff" stroke-width="1.05" stroke-linejoin="round" points="23,186.44 58.62,198.8 70.5,200.84 82.38,208.4 94.25,201.68 106.12,184.76 118,167.96 129.88,170.6 141.75,190.04 153.62,189.2 165.5,195.2 177.38,191.12 189.25,191.12 201.12,188 213,178.4 224.88,173.24 236.75,161.6 248.62,162.8 260.5,159.2 272.38,159.92 284.25,155.96 296.12,180.56 308,192.2"/>
<path fill="none" stroke="#00ffff" stroke-width="1.05" d="M23 186.44m-3 0h6m-3-3v6m-2.4-5.4l4.8 4.8m-4.8 0l4.8-4.8M58.62 198.8m-3 0h6m-3-3v6m-2.4-5.4l4.8 4.8m-4.8 0l4.8-4.8M70.5 200.84m-3 0h6m-3-3v6m-2.4-5.4l4.8 4.8m-4.8 0l4.8-4.8M82.38 208.4m-3 0h6m-3-3v6m-2.4-5.4l4.8 4.8m-4.8 0l4.8-4.8M94.25 201.68m-3 0h6m-3-3v6m-2.4-5.4l4.8 4.8m-4.8 0l4.8-4.8M106.12 184.76m-3 0h6m-3-3v6m-2.4-5.4l4.8 4.8m-4.8 0l4.8-4.8M118 167.96m-3 0h6m-3-3v6m-2.4-5.4l4.8 4.8m-4.8 0l4.8-4.8M129.88 170.6m-3 0h6m-3-3v6m-2.4-5.4l4.8 4.8m-4.8 0l4.8-4.8M141.75 190.04m-3 0h6m-3-3v6m-2.4-5.4l4.8 4.8m-4.8 0l4.8-4.8M153.62 189.2m-3 0h6m-3-3v6m-2.4-5.4l4.8 4.8m-4.8 0l4.8-4.8M165.5 195.2m-3 0h6m-3-3v6m-2.4-5.4l4.8 4.8m-4.8 0l4.8-4.8M177.38 191.12m-3 0h6m-3-3v6m-2.4-5.4l4.8 4.8m-4.8 0l4.8-4.8M189.25 191.12m-3 0h6m-3-3v6m-2.4-5.4l4.8 4.8m-4.8 0l4.8-4.8M201.12 188m-3 0h6m-3-3v6m-2.4-5.4l4.8 4.8m-4.8 0l4.8-4.8M213 178.4m-3 0h6m-3-3v6m-2.4-5.4l4.8 4.8m-4.8 0l4.8-4.8M224.88 173.24m-3 0h6m-3-3v6m-2.4-5.4l4.8 4.8m-4.8 0l4.8-4.8M236.75 161.6m-3 0h6m-3-3v6m-2.4-5.4l4.8 4.8m-4.8 0l4.8-4.8M248.62 162.8m-3 0h6m-3-3v6m-2.4-5.4l4.8 4.8m-4.8 0l4.8-4.8M260.5 159.2m-3 0h6m-3-3v6m-2.4-5.4l4.8 4.8m-4.8 0l4.8-4.8M272.38 159.92m-3 0h6m-3-3v6m-2.4-5.4l4.8 4.8m-4.8 0l4.8-4.8M284.25 155.96m-3 0h6m-3-3v6m-2.4-5.4l4.8 4.8m-4.8 0l4.8-4.8M296.12 180.56m-3 0h6m-3-3v6m-2.4-5.4l4.8 4.8m-4.8 0l4.8-4.8M308 192.2m-3 0h6m-3-3v6m-2.4-5.4l4.8 4.8m-4.8 0l4.8-4.8"/>
<polyline fill="none" stroke="#00ff00" stroke-width="1.05" stroke-linejoin="round" points="23,192.08 34.88,181.52 46.75,175.28 58.62,178.4 70.5,183.2 82.38,189.2 94.25,194 106.12,192.08 118,189.2 129.88,191 141.75,196.4 153.62,194 165.5,190.04 177.38,186.44 189.25,184.16 201.12,185.84 213,183.2 224.88,176 236.75,171.2 248.62,171.2 260.5,176 272.38,178.4 284.25,181.64 296.12,184.4 308,185.84"/>
<path fill="none" stroke="#00ff00" stroke-width="1.05" d="M23 192.08m-3 0h6m-3-3v6m-2.4-5.4l4.8 4.8m-4.8 0l4.8-4.8M34.88 181.52m-3 0h6m-3-3v6m-2.4-5.4l4.8 4.8m-4.8 0l4.8-4.8M46.75 175.28m-3 0h6m-3-3v6m-2.4-5.4l4.8 4.8m-4.8 0l4.8-4.8M58.62 178.4m-3 0h6m-3-3v6m-2.4-5.4l4.8 4.8m-4.8 0l4.8-4.8M70.5 183.2m-3 0h6m-3-3v6m-2.4-5.4l4.8 4.8m-4.8 0l4.8-4.8M82.38 189.2m-3 0h6m-3-3v6m-2.4-5.4l4.8 4.8m-4.8 0l4.8-4.8M94.25 194m-3 0h6m-3-3v6m-2.4-5.4l4.8 4.8m-4.8 0l4.8-4.8M106.12 192.08m-3 0h6m-3-3v6m-2.4-5.4l4.8 4.8m-4.8 0l4.8-4.8M118 189.2m-3 0h6m-3-3v6m-2.4-5.4l4.8 4.8m-4.8 0l4.8-4.8M129.88 191m-3 0h6m-3-3v6m-2.4-5.4l4.8 4.8m-4.8 0l4.8-4.8M141.75 196.4m-3 0h6m-3-3v6m-2.4-5.4l4.8 4.8m-4.8 0l4.8-4.8M153.62 194m-3 0h6m-3-3v6m-2.4-5.4l4.8 4.8m-4.8 0l4.8-4.8M165.5 190.04m-3 0h6m-3-3v6m-2.4-5.4l4.8 4.8m-4.8 0l4.8-4.8M177.38 186.44m-3 0h6m-3-3v6m-2.4-5.4l4.8 4.8m-4.8 0l4.8-4.8M189.25 184.16m-3 0h6m-3-3v6m-2.4-5.4l4.8 4.8m-4.8 0l4.8-4.8M201.12 185.84m-3 0h6m-3-3v6m-2.4-5.4l4.8 4.8m-4.8 0l4.8-4.8M213 183.2m-3 0h6m-3-3v6m-2.4-5.4l4.8 4.8m-4.8 0l4.8-4.8M224.88 176m-3 0h6m-3-3v6m-2.4-5.4l4.8 4.8m-4.8 0l4.8-4.8M236.75 171.2m-3 0h6m-3-3v6m-2.4-5.4l4.8 4.8m-4.8 0l4.8-4.8M248.62 171.2m-3 0h6m-3-3v6m-2.4-5.4l4.8 4.8m-4.8 0l4.8-4.8M260.5 176m-3 0h6m-3-3v6m-2.4-5.4l4.8 4.8m-4.8 0l4.8-4.8M272.38 178.4m-3 0h6m-3-3v6m-2.4-5.4l4.8 4.8m-4.8 0l4.8-4.8M284.25 181.64m-3 0h6m-3-3v6m-2.4-5.4l4.8 4.8m-4.8 0l4.8-4.8M296.12 184.4m-3 0h6m-3-3v6m-2.4-5.4l4.8 4.8m-4.8 0l4.8-4.8M308 185.84m-3 0h6m-3-3v6m-2.4-5.4l4.8 4.8m-4.8 0l4.8-4.8"/>
<polyline fill="none" stroke="#0000ff" stroke-width="1.05" stroke-linejoin="round" points="23,185.84 46.75,191 58.62,184.76 70.5,188 82.38,191 94.25,185.84 106.12,188.36 118,187.52 129.88,190.64 141.75,196.4 153.62,198.44 165.5,200 177.38,200 189.25,199.04 201.12,196.4 213,190.04 224.88,166.88 236.75,156.44 248.62,170.72 260.5,174.8 272.38,176 284.25,161.24 296.12,168.44 308,186.8"/>
<path fill="none" stroke="#0000ff" stroke-width="1.05" d="M23 185.84m-3 0h6m-3-3v6m-2.4-5.4l4.8 4.8m-4.8 0l4.8-4.8M46.75 191m-3 0h6m-3-3v6m-2.4-5.4l4.8 4.8m-4.8 0l4.8-4.8M58.62 184.76m-3 0h6m-3-3v6m-2.4-5.4l4.8 4.8m-4.8 0l4.8-4.8M70.5 188m-3 0h6m-3-3v6m-2.4-5.4l4.8 4.8m-4.8 0l4.8-4.8M82.38 191m-3 0h6m-3-3v6m-2.4-5.4l4.8 4.8m-4.8 0l4.8-4.8M94.25 185.84m-3 0h6m-3-3v6m-2.4-5.4l4.8 4.8m-4.8 0l4.8-4.8M106.12 188.36m-3 0h6m-3-3v6m-2.4-5.4l4.8 4.8m-4.8 0l4.8-4.8M118 187.52m-3 0h6m-3-3v6m-2.4-5.4l4.8 4.8m-4.8 0l4.8-4.8M129.88 190.64m-3 0h6m-3-3v6m-2.4-5.4l4.8 4.8m-4.8 0l4.8-4.8M141.75 196.4m-3 0h6m-3-3v6m-2.4-5.4l4.8 4.8m-4.8 0l4.8-4.8M153.62 198.44m-3 0h6m-3-3v6m-2.4-5.4l4.8 4.8m-4.8 0l4.8-4.8M165.5 200m-3 0h6m-3-3v6m-2.4-5.4l4.8 4.8m-4.8 0l4.8-4.8M177.38 200m-3 0h6m-3-3v6m-2.4-5.4l4.8 4.8m-4.8 0l4.8-4.8M189.25 199.04m-3 0h6m-3-3v6m-2.4-5.4l4.8 4.8m-4.8 0l4.8-4.8M201.12 196.4m-3 0h6m-3-3v6m-2.4-5.4l4.8 4.8m-4.8 0l4.8-4.8M213 190.04m-3 0h6m-3-3v6m-2.4-5.4l4.8 4.8m-4.8 0l4.8-4.8M224.88 166.88m-3 0h6m-3-3v6m-2.4-5.4l4.8 4.8m-4.8 0l4.8-4.8M236.75 156.44m-3 0h6m-3-3v6m-2.4-5.4l4.8 4.8m-4.8 0l4.8-4.8M248.62 170.72m-3 0h6m-3-3v6m-2.4-5.4l4.8 4.8m-4.8 0l4.8-4.8M260.5 174.8m-3 0h6m-3-3v6m-2.4-5.4l4.8 4.8m-4.8 0l4.8-4.8M272.38 176m-3 0h6m-3-3v6m-2.4-5.4l4.8 4.8m-4.8 0l4.8-4.8M284.25 161.24m-3 0h6m-3-3v6m-2.4-5.4l4.8 4.8m-4.8 0l4.8-4.8M296.12 168.44m-3 0h6m-3-3v6m-2.4-5.4l4.8 4.8m-4.8 0l4.8-4.8M308 186.8m-3 0h6m-3-3v6m-2.4-5.4l4.8 4.8m-4.8 0l4.8-4.8"/>
<polyline fill="none" stroke="#ff0000" stroke-width="1.05" stroke-linejoin="round" points="23,189.2 34.88,189.56 46.75,191 58.62,185.84 70.5,190.04 82.38,190.4 94.25,187.52 106.12,183.2 118,179.6 129.88,187.28 141.75,190.4 153.62,191 165.5,192.2 177.38,202.04 189.25,199.52 201.12,180.56 213,165.8 224.88,166.88 236.75,158.36 248.62,140.6 260.5,149 272.38,160.64 284.25,171.2 296.12,173.24 308,184.76"/>
<path fill="none" stroke="#ff0000" stroke-width="1.05" d="M23 189.2m-3 0h6m-3-3v6m-2.4-5.4l4.8 4.8m-4.8 0l4.8-4.8M34.88 189.56m-3 0h6m-3-3v6m-2.4-5.4l4.8 4.8m-4.8 0l4.8-4.8M46.75 191m-3 0h6m-3-3v6m-2.4-5.4l4.8 4.8m-4.8 0l4.8-4.8M58.62 185.84m-3 0h6m-3-3v6m-2.4-5.4l4.8 4.8m-4.8 0l4.8-4.8M70.5 190.04m-3 0h6m-3-3v6m-2.4-5.4l4.8 4.8m-4.8 0l4.8-4.8M82.38 190.4m-3 0h6m-3-3v6m-2.4-5.4l4.8 4.8m-4.8 0l4.8-4.8M94.25 187.52m-3 0h6m-3-3v6m-2.4-5.4l4.8 4.8m-4.8 0l4.8-4.8M106.12 183.2m-3 0h6m-3-3v6m-2.4-5.4l4.8 4.8m-4.8 0l4.8-4.8M118 179.6m-3 0h6m-3-3v6m-2.4-5.4l4.8 4.8m-4.8 0l4.8-4.8M129.88 187.28m-3 0h6m-3-3v6m-2.4-5.4l4.8 4.8m-4.8 0l4.8-4.8M141.75 190.4m-3 0h6m-3-3v6m-2.4-5.4l4.8 4.8m-4.8 0l4.8-4.8M153.62 191m-3 0h6m-3-3v6m-2.4-5.4l4.8 4.8m-4.8 0l4.8-4.8M165.5 192.2m-3 0h6m-3-3v6m-2.4-5.4l4.8 4.8m-4.8 0l4.8-4.8M177.38 202.04m-3 0h6m-3-3v6m-2.4-5.4l4.8 4.8m-4.8 0l4.8-4.8M189.25 199.52m-3 0h6m-3-3v6m-2.4-5.4l4.8 4.8m-4.8 0l4.8-4.8M201.12 180.56m-3 0h6m-3-3v6m-2.4-5.4l4.8 4.8m-4.8 0l4.8-4.8M213 165.8m-3 0h6m-3-3v6m-2.4-5.4l4.8 4.8m-4.8 0l4.8-4.8M224.88 166.88m-3 0h6m-3-3v6m-2.4-5.4l4.8 4.8m-4.8 0l4.8-4.8M236.75 158.36m-3 0h6m-3-3v6m-2.4-5.4l4.8 4.8m-4.8 0l4.8-4.8M248.62 140.6m-3 0h6m-3-3v6m-2.4-5.4l4.8 4.8m-4.8 0l4.8-4.8M260.5 149m-3 0h6m-3-3v6m-2.4-5.4l4.8 4.8m-4.8 0l4.8-4.8M272.38 160.64m-3 0h6m-3-3v6m-2.4-5.4l4.8 4.8m-4.8 0l4.8-4.8M284.25 171.2m-3 0h6m-3-3v6m-2.4-5.4l4.8 4.8m-4.8 0l4.8-4.8M296.12 173.24m-3 0h6m-3-3v6m-2.4-5.4l4.8 4.8m-4.8 0l4.8-4.8M308 184.76m-3 0h6m-3-3v6m-2.4-5.4l4.8 4.8m-4.8 0l4.8-4.8"/>
</g>
<path class="k" d="M23 218h6.5M308 218h-6.5M23 212h3.5M308 212h-3.5M23 206h6.5M308 206h-6.5M23 200h3.5M308 200h-3.5M23 194h6.5M308 194h-6.5M23 188h3.5M308 188h-3.5M23 182h6.5M308 182h-6.5M23 176h3.5M308 176h-3.5M23 170h6.5M308 170h-6.5M23 164h3.5M308 164h-3.5M23 158h6.5M308 158h-6.5M23 152h3.5M308 152h-3.5M23 146h6.5M308 146h-6.5M23 140h3.5M308 140h-3.5M23 134h6.5M308 134h-6.5M23 134v6.5M23 218v-6.5M46.75 134v3.5M46.75 218v-3.5M70.5 134v6.5M70.5 218v-6.5M94.25 134v3.5M94.25 218v-3.5M118 134v6.5M118 218v-6.5M141.75 134v3.5M141.75 218v-3.5M165.5 134v6.5M165.5 218v-6.5M189.25 134v3.5M189.25 218v-3.5M213 134v6.5M213 218v-6.5M236.75 134v3.5M236.75 218v-3.5M260.5 134v6.5M260.5 218v-6.5M284.25 134v3.5M284.25 218v-3.5M308 134v6.5M308 218v-6.5"/>
<rect class="b" x="23" y="134" width="285" height="84"/>
<g clip-path="url(#e_NO2)">
<path fill="none" stroke="#00ffff" stroke-width="1.05" d="M23 186.44m-3 0h6m-3-3v6m-2.4-5.4l4.8 4.8m-4.8 0l4.8-4.8M308 192.2m-3 0h6m-3-3v6m-2.4-5.4l4.8 4.8m-4.8 0l4.8-4.8"/>
<path fill="none" stroke="#00ff00" stroke-width="1.05" d="M23 192.08m-3 0h6m-3-3v6m-2.4-5.4l4.8 4.8m-4.8 0l4.8-4.8M308 185.84m-3 0h6m-3-3v6m-2.4-5.4l4.8 4.8m-4.8 0l4.8-4.8"/>
<path fill="none" stroke="#0000ff" stroke-width="1.05" d="M23 185.84m-3 0h6m-3-3v6m-2.4-5.4l4.8 4.8m-4.8 0l4.8-4.8M308 186.8m-3 0h6m-3-3v6m-2.4-5.4l4.8 4.8m-4.8 0l4.8-4.8"/>
<path fill="none" stroke="#ff0000" stroke-width="1.05" d="M23 189.2m-3 0h6m-3-3v6m-2.4-5.4l4.8 4.8m-4.8 0l4.8-4.8M308 184.76m-3 0h6m-3-3v6m-2.4-5.4l4.8 4.8m-4.8 0l4.8-4.8"/>
</g>
<path class="g" d="M24 206H307M24 194H307M24 182H307M24 170H307M24 158H307M24 146H307M70.5 135V217M118 135V217M165.5 135V217M213 135V217M260.5 135V217"/>
<text class="t" text-anchor="end" x="18.4" y="220.55">0</text><text class="t" text-anchor="end" x="18.4" y="208.55">10</text><text class="t" text-anchor="end" x="18.4" y="196.55">20</text><text class="t" text-anchor="end" x="18.4" y="184.55">30</text><text class="t" text-anchor="end" x="18.4" y="172.55">40</text><text class="t" text-anchor="end" x="18.4" y="160.55">50</text><text class="t" text-anchor="end" x="18.4" y="148.55">60</text><text class="t" text-anchor="end" x="18.4" y="136.55">70</text>
<text class="t" text-anchor="middle" x="23.2" y="228.8">0</text><text class="t" text-anchor="middle" x="70.7" y="228.8">4</text><text class="t" text-anchor="middle" x="118.2" y="228.8">8</text><text class="t" text-anchor="middle" x="165.7" y="228.8">12</text><text class="t" text-anchor="middle" x="213.2" y="228.8">16</text><text class="t" text-anchor="middle" x="260.7" y="228.8">20</text><text class="t" text-anchor="middle" x="308.2" y="228.8">24</text>
<text class="p" x="266.3" y="130.5" textLength="16.6" lengthAdjust="spacingAndGlyphs">NO2</text><text class="p" x="286.2" y="130.5" textLength="22.9" lengthAdjust="spacingAndGlyphs">(ppb)</text>
</g>
<g id="panel_RSP">
<g clip-path="url(#c_RSP)">
<polyline fill="none" stroke="#00ffff" stroke-width="1.05" stroke-linejoin="round" points="348,191.75 359.88,192.8 371.75,193.64 383.62,196.37 395.5,197.84 407.38,198.89 419.25,196.79 431.12,196.37 443,192.17 454.88,185.87 466.75,184.4 478.62,189.02 490.5,184.4 502.38,186.5 514.25,179.57 526.12,183.77 538,171.49 549.88,161.3 561.75,150.8 573.62,148.7 585.5,143.13 597.38,152.9 609.25,153.95 621.12,153.95 633,157.1"/>
<path fill="none" stroke="#00ffff" stroke-width="1.05" d="M348 191.75m-3 0h6m-3-3v6m-2.4-5.4l4.8 4.8m-4.8 0l4.8-4.8M359.88 192.8m-3 0h6m-3-3v6m-2.4-5.4l4.8 4.8m-4.8 0l4.8-4.8M371.75 193.64m-3 0h6m-3-3v6m-2.4-5.4l4.8 4.8m-4.8 0l4.8-4.8M383.62 196.37m-3 0h6m-3-3v6m-2.4-5.4l4.8 4.8m-4.8 0l4.8-4.8M395.5 197.84m-3 0h6m-3-3v6m-2.4-5.4l4.8 4.8m-4.8 0l4.8-4.8M407.38 198.89m-3 0h6m-3-3v6m-2.4-5.4l4.8 4.8m-4.8 0l4.8-4.8M419.25 196.79m-3 0h6m-3-3v6m-2.4-5.4l4.8 4.8m-4.8 0l4.8-4.8M431.12 196.37m-3 0h6m-3-3v6m-2.4-5.4l4.8 4.8m-4.8 0l4.8-4.8M443 192.17m-3 0h6m-3-3v6m-2.4-5.4l4.8 4.8m-4.8 0l4.8-4.8M454.88 185.87m-3 0h6m-3-3v6m-2.4-5.4l4.8 4.8m-4.8 0l4.8-4.8M466.75 184.4m-3 0h6m-3-3v6m-2.4-5.4l4.8 4.8m-4.8 0l4.8-4.8M478.62 189.02m-3 0h6m-3-3v6m-2.4-5.4l4.8 4.8m-4.8 0l4.8-4.8M490.5 184.4m-3 0h6m-3-3v6m-2.4-5.4l4.8 4.8m-4.8 0l4.8-4.8M502.38 186.5m-3 0h6m-3-3v6m-2.4-5.4l4.8 4.8m-4.8 0l4.8-4.8M514.25 179.57m-3 0h6m-3-3v6m-2.4-5.4l4.8 4.8m-4.8 0l4.8-4.8M526.12 183.77m-3 0h6m-3-3v6m-2.4-5.4l4.8 4.8m-4.8 0l4.8-4.8M538 171.49m-3 0h6m-3-3v6m-2.4-5.4l4.8 4.8m-4.8 0l4.8-4.8M549.88 161.3m-3 0h6m-3-3v6m-2.4-5.4l4.8 4.8m-4.8 0l4.8-4.8M561.75 150.8m-3 0h6m-3-3v6m-2.4-5.4l4.8 4.8m-4.8 0l4.8-4.8M573.62 148.7m-3 0h6m-3-3v6m-2.4-5.4l4.8 4.8m-4.8 0l4.8-4.8M585.5 143.13m-3 0h6m-3-3v6m-2.4-5.4l4.8 4.8m-4.8 0l4.8-4.8M597.38 152.9m-3 0h6m-3-3v6m-2.4-5.4l4.8 4.8m-4.8 0l4.8-4.8M609.25 153.95m-3 0h6m-3-3v6m-2.4-5.4l4.8 4.8m-4.8 0l4.8-4.8M621.12 153.95m-3 0h6m-3-3v6m-2.4-5.4l4.8 4.8m-4.8 0l4.8-4.8M633 157.1m-3 0h6m-3-3v6m-2.4-5.4l4.8 4.8m-4.8 0l4.8-4.8"/>
<polyline fill="none" stroke="#00ff00" stroke-width="1.05" stroke-linejoin="round" points="348,157.41 359.88,166.55 371.75,166.55 383.62,164.76 395.5,169.7 407.38,176.42 419.25,189.02 431.12,190.7 443,189.02 454.88,185.24 466.75,188.6 478.62,190.07 490.5,194.9 502.38,193.22 514.25,184.4 526.12,179.57 538,180.62 549.88,172.64 561.75,167.6 573.62,168.65 585.5,178.94 597.38,179.15 609.25,179.99 621.12,186.92 633,194.27"/>
<path fill="none" stroke="#00ff00" stroke-width="1.05" d="M348 157.41m-3 0h6m-3-3v6m-2.4-5.4l4.8 4.8m-4.8 0l4.8-4.8M359.88 166.55m-3 0h6m-3-3v6m-2.4-5.4l4.8 4.8m-4.8 0l4.8-4.8M371.75 166.55m-3 0h6m-3-3v6m-2.4-5.4l4.8 4.8m-4.8 0l4.8-4.8M383.62 164.76m-3 0h6m-3-3v6m-2.4-5.4l4.8 4.8m-4.8 0l4.8-4.8M395.5 169.7m-3 0h6m-3-3v6m-2.4-5.4l4.8 4.8m-4.8 0l4.8-4.8M407.38 176.42m-3 0h6m-3-3v6m-2.4-5.4l4.8 4.8m-4.8 0l4.8-4.8M419.25 189.02m-3 0h6m-3-3v6m-2.4-5.4l4.8 4.8m-4.8 0l4.8-4.8M431.12 190.7m-3 0h6m-3-3v6m-2.4-5.4l4.8 4.8m-4.8 0l4.8-4.8M443 189.02m-3 0h6m-3-3v6m-2.4-5.4l4.8 4.8m-4.8 0l4.8-4.8M454.88 185.24m-3 0h6m-3-3v6m-2.4-5.4l4.8 4.8m-4.8 0l4.8-4.8M466.75 188.6m-3 0h6m-3-3v6m-2.4-5.4l4.8 4.8m-4.8 0l4.8-4.8M478.62 190.07m-3 0h6m-3-3v6m-2.4-5.4l4.8 4.8m-4.8 0l4.8-4.8M490.5 194.9m-3 0h6m-3-3v6m-2.4-5.4l4.8 4.8m-4.8 0l4.8-4.8M502.38 193.22m-3 0h6m-3-3v6m-2.4-5.4l4.8 4.8m-4.8 0l4.8-4.8M514.25 184.4m-3 0h6m-3-3v6m-2.4-5.4l4.8 4.8m-4.8 0l4.8-4.8M526.12 179.57m-3 0h6m-3-3v6m-2.4-5.4l4.8 4.8m-4.8 0l4.8-4.8M538 180.62m-3 0h6m-3-3v6m-2.4-5.4l4.8 4.8m-4.8 0l4.8-4.8M549.88 172.64m-3 0h6m-3-3v6m-2.4-5.4l4.8 4.8m-4.8 0l4.8-4.8M561.75 167.6m-3 0h6m-3-3v6m-2.4-5.4l4.8 4.8m-4.8 0l4.8-4.8M573.62 168.65m-3 0h6m-3-3v6m-2.4-5.4l4.8 4.8m-4.8 0l4.8-4.8M585.5 178.94m-3 0h6m-3-3v6m-2.4-5.4l4.8 4.8m-4.8 0l4.8-4.8M597.38 179.15m-3 0h6m-3-3v6m-2.4-5.4l4.8 4.8m-4.8 0l4.8-4.8M609.25 179.99m-3 0h6m-3-3v6m-2.4-5.4l4.8 4.8m-4.8 0l4.8-4.8M621.12 186.92m-3 0h6m-3-3v6m-2.4-5.4l4.8 4.8m-4.8 0l4.8-4.8M633 194.27m-3 0h6m-3-3v6m-2.4-5.4l4.8 4.8m-4.8 0l4.8-4.8"/>
<polyline fill="none" stroke="#0000ff" stroke-width="1.05" stroke-linejoin="round" points="348,194.27 359.88,194.9 371.75,199.1 383.62,196.37 395.5,195.32 407.38,198.05 419.25,200.15 431.12,196.79 443,200.57 454.88,207.5 466.75,207.5 478.62,210.02 490.5,207.5 502.38,207.5 514.25,208.97 526.12,207.5 538,202.67 549.88,190.07 561.75,173.27 573.62,185.24 585.5,193.22 597.38,190.49 609.25,191.75 621.12,183.77 633,200.15"/>
<path fill="none" stroke="#0000ff" stroke-width="1.05" d="M348 194.27m-3 0h6m-3-3v6m-2.4-5.4l4.8 4.8m-4.8 0l4.8-4.8M359.88 194.9m-3 0h6m-3-3v6m-2.4-5.4l4.8 4.8m-4.8 0l4.8-4.8M371.75 199.1m-3 0h6m-3-3v6m-2.4-5.4l4.8 4.8m-4.8 0l4.8-4.8M383.62 196.37m-3 0h6m-3-3v6m-2.4-5.4l4.8 4.8m-4.8 0l4.8-4.8M395.5 195.32m-3 0h6m-3-3v6m-2.4-5.4l4.8 4.8m-4.8 0l4.8-4.8M407.38 198.05m-3 0h6m-3-3v6m-2.4-5.4l4.8 4.8m-4.8 0l4.8-4.8M419.25 200.15m-3 0h6m-3-3v6m-2.4-5.4l4.8 4.8m-4.8 0l4.8-4.8M431.12 196.79m-3 0h6m-3-3v6m-2.4-5.4l4.8 4.8m-4.8 0l4.8-4.8M443 200.57m-3 0h6m-3-3v6m-2.4-5.4l4.8 4.8m-4.8 0l4.8-4.8M454.88 207.5m-3 0h6m-3-3v6m-2.4-5.4l4.8 4.8m-4.8 0l4.8-4.8M466.75 207.5m-3 0h6m-3-3v6m-2.4-5.4l4.8 4.8m-4.8 0l4.8-4.8M478.62 210.02m-3 0h6m-3-3v6m-2.4-5.4l4.8 4.8m-4.8 0l4.8-4.8M490.5 207.5m-3 0h6m-3-3v6m-2.4-5.4l4.8 4.8m-4.8 0l4.8-4.8M502.38 207.5m-3 0h6m-3-3v6m-2.4-5.4l4.8 4.8m-4.8 0l4.8-4.8M514.25 208.97m-3 0h6m-3-3v6m-2.4-5.4l4.8 4.8m-4.8 0l4.8-4.8M526.12 207.5m-3 0h6m-3-3v6m-2.4-5.4l4.8 4.8m-4.8 0l4.8-4.8M538 202.67m-3 0h6m-3-3v6m-2.4-5.4l4.8 4.8m-4.8 0l4.8-4.8M549.88 190.07m-3 0h6m-3-3v6m-2.4-5.4l4.8 4.8m-4.8 0l4.8-4.8M561.75 173.27m-3 0h6m-3-3v6m-2.4-5.4l4.8 4.8m-4.8 0l4.8-4.8M573.62 185.24m-3 0h6m-3-3v6m-2.4-5.4l4.8 4.8m-4.8 0l4.8-4.8M585.5 193.22m-3 0h6m-3-3v6m-2.4-5.4l4.8 4.8m-4.8 0l4.8-4.8M597.38 190.49m-3 0h6m-3-3v6m-2.4-5.4l4.8 4.8m-4.8 0l4.8-4.8M609.25 191.75m-3 0h6m-3-3v6m-2.4-5.4l4.8 4.8m-4.8 0l4.8-4.8M621.12 183.77m-3 0h6m-3-3v6m-2.4-5.4l4.8 4.8m-4.8 0l4.8-4.8M633 200.15m-3 0h6m-3-3v6m-2.4-5.4l4.8 4.8m-4.8 0l4.8-4.8"/>
<polyline fill="none" stroke="#ff0000" stroke-width="1.05" stroke-linejoin="round" points="348,200.15 359.88,209.6 371.75,207.5 383.62,206.45 395.5,206.45 407.38,204.14 419.25,207.5 431.12,207.5 443,202.04 454.88,195.74 466.75,200.15 478.62,194.9 490.5,191.75 502.38,201.2 514.25,210.44 526.12,204.14 538,182.3 549.88,178.1 561.75,186.5 573.62,177.47 585.5,179.99 597.38,184.4 609.25,187.97 621.12,190.49 633,189.65"/>
<path fill="none" stroke="#ff0000" stroke-width="1.05" d="M348 200.15m-3 0h6m-3-3v6m-2.4-5.4l4.8 4.8m-4.8 0l4.8-4.8M359.88 209.6m-3 0h6m-3-3v6m-2.4-5.4l4.8 4.8m-4.8 0l4.8-4.8M371.75 207.5m-3 0h6m-3-3v6m-2.4-5.4l4.8 4.8m-4.8 0l4.8-4.8M383.62 206.45m-3 0h6m-3-3v6m-2.4-5.4l4.8 4.8m-4.8 0l4.8-4.8M395.5 206.45m-3 0h6m-3-3v6m-2.4-5.4l4.8 4.8m-4.8 0l4.8-4.8M407.38 204.14m-3 0h6m-3-3v6m-2.4-5.4l4.8 4.8m-4.8 0l4.8-4.8M419.25 207.5m-3 0h6m-3-3v6m-2.4-5.4l4.8 4.8m-4.8 0l4.8-4.8M431.12 207.5m-3 0h6m-3-3v6m-2.4-5.4l4.8 4.8m-4.8 0l4.8-4.8M443 202.04m-3 0h6m-3-3v6m-2.4-5.4l4.8 4.8m-4.8 0l4.8-4.8M454.88 195.74m-3 0h6m-3-3v6m-2.4-5.4l4.8 4.8m-4.8 0l4.8-4.8M466.75 200.15m-3 0h6m-3-3v6m-2.4-5.4l4.8 4.8m-4.8 0l4.8-4.8M478.62 194.9m-3 0h6m-3-3v6m-2.4-5.4l4.8 4.8m-4.8 0l4.8-4.8M490.5 191.75m-3 0h6m-3-3v6m-2.4-5.4l4.8 4.8m-4.8 0l4.8-4.8M502.38 201.2m-3 0h6m-3-3v6m-2.4-5.4l4.8 4.8m-4.8 0l4.8-4.8M514.25 210.44m-3 0h6m-3-3v6m-2.4-5.4l4.8 4.8m-4.8 0l4.8-4.8M526.12 204.14m-3 0h6m-3-3v6m-2.4-5.4l4.8 4.8m-4.8 0l4.8-4.8M538 182.3m-3 0h6m-3-3v6m-2.4-5.4l4.8 4.8m-4.8 0l4.8-4.8M549.88 178.1m-3 0h6m-3-3v6m-2.4-5.4l4.8 4.8m-4.8 0l4.8-4.8M561.75 186.5m-3 0h6m-3-3v6m-2.4-5.4l4.8 4.8m-4.8 0l4.8-4.8M573.62 177.47m-3 0h6m-3-3v6m-2.4-5.4l4.8 4.8m-4.8 0l4.8-4.8M585.5 179.99m-3 0h6m-3-3v6m-2.4-5.4l4.8 4.8m-4.8 0l4.8-4.8M597.38 184.4m-3 0h6m-3-3v6m-2.4-5.4l4.8 4.8m-4.8 0l4.8-4.8M609.25 187.97m-3 0h6m-3-3v6m-2.4-5.4l4.8 4.8m-4.8 0l4.8-4.8M621.12 190.49m-3 0h6m-3-3v6m-2.4-5.4l4.8 4.8m-4.8 0l4.8-4.8M633 189.65m-3 0h6m-3-3v6m-2.4-5.4l4.8 4.8m-4.8 0l4.8-4.8"/>
</g>
<path class="k" d="M348 218h6.5M633 218h-6.5M348 212.75h3.5M633 212.75h-3.5M348 207.5h6.5M633 207.5h-6.5M348 202.25h3.5M633 202.25h-3.5M348 197h6.5M633 197h-6.5M348 191.75h3.5M633 191.75h-3.5M348 186.5h6.5M633 186.5h-6.5M348 181.25h3.5M633 181.25h-3.5M348 176h6.5M633 176h-6.5M348 170.75h3.5M633 170.75h-3.5M348 165.5h6.5M633 165.5h-6.5M348 160.25h3.5M633 160.25h-3.5M348 155h6.5M633 155h-6.5M348 149.75h3.5M633 149.75h-3.5M348 144.5h6.5M633 144.5h-6.5M348 139.25h3.5M633 139.25h-3.5M348 134h6.5M633 134h-6.5M348 134v6.5M348 218v-6.5M371.75 134v3.5M371.75 218v-3.5M395.5 134v6.5M395.5 218v-6.5M419.25 134v3.5M419.25 218v-3.5M443 134v6.5M443 218v-6.5M466.75 134v3.5M466.75 218v-3.5M490.5 134v6.5M490.5 218v-6.5M514.25 134v3.5M514.25 218v-3.5M538 134v6.5M538 218v-6.5M561.75 134v3.5M561.75 218v-3.5M585.5 134v6.5M585.5 218v-6.5M609.25 134v3.5M609.25 218v-3.5M633 134v6.5M633 218v-6.5"/>
<rect class="b" x="348" y="134" width="285" height="84"/>
<g clip-path="url(#e_RSP)">
<path fill="none" stroke="#00ffff" stroke-width="1.05" d="M348 191.75m-3 0h6m-3-3v6m-2.4-5.4l4.8 4.8m-4.8 0l4.8-4.8M633 157.1m-3 0h6m-3-3v6m-2.4-5.4l4.8 4.8m-4.8 0l4.8-4.8"/>
<path fill="none" stroke="#00ff00" stroke-width="1.05" d="M348 157.41m-3 0h6m-3-3v6m-2.4-5.4l4.8 4.8m-4.8 0l4.8-4.8M633 194.27m-3 0h6m-3-3v6m-2.4-5.4l4.8 4.8m-4.8 0l4.8-4.8"/>
<path fill="none" stroke="#0000ff" stroke-width="1.05" d="M348 194.27m-3 0h6m-3-3v6m-2.4-5.4l4.8 4.8m-4.8 0l4.8-4.8M633 200.15m-3 0h6m-3-3v6m-2.4-5.4l4.8 4.8m-4.8 0l4.8-4.8"/>
<path fill="none" stroke="#ff0000" stroke-width="1.05" d="M348 200.15m-3 0h6m-3-3v6m-2.4-5.4l4.8 4.8m-4.8 0l4.8-4.8M633 189.65m-3 0h6m-3-3v6m-2.4-5.4l4.8 4.8m-4.8 0l4.8-4.8"/>
</g>
<path class="g" d="M349 207.5H632M349 197H632M349 186.5H632M349 176H632M349 165.5H632M349 155H632M349 144.5H632M395.5 135V217M443 135V217M490.5 135V217M538 135V217M585.5 135V217"/>
<text class="t" text-anchor="end" x="343.4" y="220.55">10</text><text class="t" text-anchor="end" x="343.4" y="210.05">20</text><text class="t" text-anchor="end" x="343.4" y="199.55">30</text><text class="t" text-anchor="end" x="343.4" y="189.05">40</text><text class="t" text-anchor="end" x="343.4" y="178.55">50</text><text class="t" text-anchor="end" x="343.4" y="168.05">60</text><text class="t" text-anchor="end" x="343.4" y="157.55">70</text><text class="t" text-anchor="end" x="343.4" y="147.05">80</text><text class="t" text-anchor="end" x="343.4" y="136.55">90</text>
<text class="t" text-anchor="middle" x="348.2" y="228.8">0</text><text class="t" text-anchor="middle" x="395.7" y="228.8">4</text><text class="t" text-anchor="middle" x="443.2" y="228.8">8</text><text class="t" text-anchor="middle" x="490.7" y="228.8">12</text><text class="t" text-anchor="middle" x="538.2" y="228.8">16</text><text class="t" text-anchor="middle" x="585.7" y="228.8">20</text><text class="t" text-anchor="middle" x="633.2" y="228.8">24</text>
<text class="p" x="577.1" y="130.5" textLength="16.1" lengthAdjust="spacingAndGlyphs">RSP</text><text class="p" x="596.9" y="130.5" textLength="37.2" lengthAdjust="spacingAndGlyphs">(ug/m3)</text>
</g>
<g id="panel_FSP">
<g clip-path="url(#c_FSP)">
<polyline fill="none" stroke="#00ffff" stroke-width="1.05" stroke-linejoin="round" points="673,187.59 684.88,189.44 696.75,192.8 708.62,194.31 720.5,196.33 732.38,199.52 744.25,195.99 756.12,194.82 768,191.12 779.88,185.24 791.75,182.72 803.62,189.1 815.5,183.06 827.38,184.4 839.25,176.34 851.12,180.54 863,168.94 874.88,162.73 886.75,149.12 898.62,145.93 910.5,139.21 922.38,150.8 934.25,152.65 946.12,149.12 958,147.94"/>
<path fill="none" stroke="#00ffff" stroke-width="1.05" d="M673 187.59m-3 0h6m-3-3v6m-2.4-5.4l4.8 4.8m-4.8 0l4.8-4.8M684.88 189.44m-3 0h6m-3-3v6m-2.4-5.4l4.8 4.8m-4.8 0l4.8-4.8M696.75 192.8m-3 0h6m-3-3v6m-2.4-5.4l4.8 4.8m-4.8 0l4.8-4.8M708.62 194.31m-3 0h6m-3-3v6m-2.4-5.4l4.8 4.8m-4.8 0l4.8-4.8M720.5 196.33m-3 0h6m-3-3v6m-2.4-5.4l4.8 4.8m-4.8 0l4.8-4.8M732.38 199.52m-3 0h6m-3-3v6m-2.4-5.4l4.8 4.8m-4.8 0l4.8-4.8M744.25 195.99m-3 0h6m-3-3v6m-2.4-5.4l4.8 4.8m-4.8 0l4.8-4.8M756.12 194.82m-3 0h6m-3-3v6m-2.4-5.4l4.8 4.8m-4.8 0l4.8-4.8M768 191.12m-3 0h6m-3-3v6m-2.4-5.4l4.8 4.8m-4.8 0l4.8-4.8M779.88 185.24m-3 0h6m-3-3v6m-2.4-5.4l4.8 4.8m-4.8 0l4.8-4.8M791.75 182.72m-3 0h6m-3-3v6m-2.4-5.4l4.8 4.8m-4.8 0l4.8-4.8M803.62 189.1m-3 0h6m-3-3v6m-2.4-5.4l4.8 4.8m-4.8 0l4.8-4.8M815.5 183.06m-3 0h6m-3-3v6m-2.4-5.4l4.8 4.8m-4.8 0l4.8-4.8M827.38 184.4m-3 0h6m-3-3v6m-2.4-5.4l4.8 4.8m-4.8 0l4.8-4.8M839.25 176.34m-3 0h6m-3-3v6m-2.4-5.4l4.8 4.8m-4.8 0l4.8-4.8M851.12 180.54m-3 0h6m-3-3v6m-2.4-5.4l4.8 4.8m-4.8 0l4.8-4.8M863 168.94m-3 0h6m-3-3v6m-2.4-5.4l4.8 4.8m-4.8 0l4.8-4.8M874.88 162.73m-3 0h6m-3-3v6m-2.4-5.4l4.8 4.8m-4.8 0l4.8-4.8M886.75 149.12m-3 0h6m-3-3v6m-2.4-5.4l4.8 4.8m-4.8 0l4.8-4.8M898.62 145.93m-3 0h6m-3-3v6m-2.4-5.4l4.8 4.8m-4.8 0l4.8-4.8M910.5 139.21m-3 0h6m-3-3v6m-2.4-5.4l4.8 4.8m-4.8 0l4.8-4.8M922.38 150.8m-3 0h6m-3-3v6m-2.4-5.4l4.8 4.8m-4.8 0l4.8-4.8M934.25 152.65m-3 0h6m-3-3v6m-2.4-5.4l4.8 4.8m-4.8 0l4.8-4.8M946.12 149.12m-3 0h6m-3-3v6m-2.4-5.4l4.8 4.8m-4.8 0l4.8-4.8M958 147.94m-3 0h6m-3-3v6m-2.4-5.4l4.8 4.8m-4.8 0l4.8-4.8"/>
<polyline fill="none" stroke="#00ff00" stroke-width="1.05" stroke-linejoin="round" points="673,147.94 684.88,162.22 696.75,172.64 708.62,170.62 720.5,179.02 732.38,180.54 744.25,187.59 756.12,189.44 768,185.91 779.88,184.4 791.75,185.91 803.62,185.91 815.5,190.62 827.38,190.62 839.25,185.91 851.12,182.72 863,184.23 874.88,178.52 886.75,174.32 898.62,176 910.5,184.4 922.38,185.91 934.25,186.25 946.12,192.63 958,198.01"/>
<path fill="none" stroke="#00ff00" stroke-width="1.05" d="M673 147.94m-3 0h6m-3-3v6m-2.4-5.4l4.8 4.8m-4.8 0l4.8-4.8M684.88 162.22m-3 0h6m-3-3v6m-2.4-5.4l4.8 4.8m-4.8 0l4.8-4.8M696.75 172.64m-3 0h6m-3-3v6m-2.4-5.4l4.8 4.8m-4.8 0l4.8-4.8M708.62 170.62m-3 0h6m-3-3v6m-2.4-5.4l4.8 4.8m-4.8 0l4.8-4.8M720.5 179.02m-3 0h6m-3-3v6m-2.4-5.4l4.8 4.8m-4.8 0l4.8-4.8M732.38 180.54m-3 0h6m-3-3v6m-2.4-5.4l4.8 4.8m-4.8 0l4.8-4.8M744.25 187.59m-3 0h6m-3-3v6m-2.4-5.4l4.8 4.8m-4.8 0l4.8-4.8M756.12 189.44m-3 0h6m-3-3v6m-2.4-5.4l4.8 4.8m-4.8 0l4.8-4.8M768 185.91m-3 0h6m-3-3v6m-2.4-5.4l4.8 4.8m-4.8 0l4.8-4.8M779.88 184.4m-3 0h6m-3-3v6m-2.4-5.4l4.8 4.8m-4.8 0l4.8-4.8M791.75 185.91m-3 0h6m-3-3v6m-2.4-5.4l4.8 4.8m-4.8 0l4.8-4.8M803.62 185.91m-3 0h6m-3-3v6m-2.4-5.4l4.8 4.8m-4.8 0l4.8-4.8M815.5 190.62m-3 0h6m-3-3v6m-2.4-5.4l4.8 4.8m-4.8 0l4.8-4.8M827.38 190.62m-3 0h6m-3-3v6m-2.4-5.4l4.8 4.8m-4.8 0l4.8-4.8M839.25 185.91m-3 0h6m-3-3v6m-2.4-5.4l4.8 4.8m-4.8 0l4.8-4.8M851.12 182.72m-3 0h6m-3-3v6m-2.4-5.4l4.8 4.8m-4.8 0l4.8-4.8M863 184.23m-3 0h6m-3-3v6m-2.4-5.4l4.8 4.8m-4.8 0l4.8-4.8M874.88 178.52m-3 0h6m-3-3v6m-2.4-5.4l4.8 4.8m-4.8 0l4.8-4.8M886.75 174.32m-3 0h6m-3-3v6m-2.4-5.4l4.8 4.8m-4.8 0l4.8-4.8M898.62 176m-3 0h6m-3-3v6m-2.4-5.4l4.8 4.8m-4.8 0l4.8-4.8M910.5 184.4m-3 0h6m-3-3v6m-2.4-5.4l4.8 4.8m-4.8 0l4.8-4.8M922.38 185.91m-3 0h6m-3-3v6m-2.4-5.4l4.8 4.8m-4.8 0l4.8-4.8M934.25 186.25m-3 0h6m-3-3v6m-2.4-5.4l4.8 4.8m-4.8 0l4.8-4.8M946.12 192.63m-3 0h6m-3-3v6m-2.4-5.4l4.8 4.8m-4.8 0l4.8-4.8M958 198.01m-3 0h6m-3-3v6m-2.4-5.4l4.8 4.8m-4.8 0l4.8-4.8"/>
<polyline fill="none" stroke="#0000ff" stroke-width="1.05" stroke-linejoin="round" points="673,197.34 684.88,197 696.75,202.71 708.62,202.71 720.5,201.2 732.38,201.2 744.25,202.71 756.12,197.34 768,197.34 779.88,207.92 791.75,211.11 803.62,214.22 815.5,212.79 827.38,212.79 839.25,212.79 851.12,212.79 863,207.92 874.88,201.2 886.75,194.31 898.62,197.34 910.5,201.2 922.38,199.52 934.25,199.52 946.12,184.74 958,206.91"/>
<path fill="none" stroke="#0000ff" stroke-width="1.05" d="M673 197.34m-3 0h6m-3-3v6m-2.4-5.4l4.8 4.8m-4.8 0l4.8-4.8M684.88 197m-3 0h6m-3-3v6m-2.4-5.4l4.8 4.8m-4.8 0l4.8-4.8M696.75 202.71m-3 0h6m-3-3v6m-2.4-5.4l4.8 4.8m-4.8 0l4.8-4.8M708.62 202.71m-3 0h6m-3-3v6m-2.4-5.4l4.8 4.8m-4.8 0l4.8-4.8M720.5 201.2m-3 0h6m-3-3v6m-2.4-5.4l4.8 4.8m-4.8 0l4.8-4.8M732.38 201.2m-3 0h6m-3-3v6m-2.4-5.4l4.8 4.8m-4.8 0l4.8-4.8M744.25 202.71m-3 0h6m-3-3v6m-2.4-5.4l4.8 4.8m-4.8 0l4.8-4.8M756.12 197.34m-3 0h6m-3-3v6m-2.4-5.4l4.8 4.8m-4.8 0l4.8-4.8M768 197.34m-3 0h6m-3-3v6m-2.4-5.4l4.8 4.8m-4.8 0l4.8-4.8M779.88 207.92m-3 0h6m-3-3v6m-2.4-5.4l4.8 4.8m-4.8 0l4.8-4.8M791.75 211.11m-3 0h6m-3-3v6m-2.4-5.4l4.8 4.8m-4.8 0l4.8-4.8M803.62 214.22m-3 0h6m-3-3v6m-2.4-5.4l4.8 4.8m-4.8 0l4.8-4.8M815.5 212.79m-3 0h6m-3-3v6m-2.4-5.4l4.8 4.8m-4.8 0l4.8-4.8M827.38 212.79m-3 0h6m-3-3v6m-2.4-5.4l4.8 4.8m-4.8 0l4.8-4.8M839.25 212.79m-3 0h6m-3-3v6m-2.4-5.4l4.8 4.8m-4.8 0l4.8-4.8M851.12 212.79m-3 0h6m-3-3v6m-2.4-5.4l4.8 4.8m-4.8 0l4.8-4.8M863 207.92m-3 0h6m-3-3v6m-2.4-5.4l4.8 4.8m-4.8 0l4.8-4.8M874.88 201.2m-3 0h6m-3-3v6m-2.4-5.4l4.8 4.8m-4.8 0l4.8-4.8M886.75 194.31m-3 0h6m-3-3v6m-2.4-5.4l4.8 4.8m-4.8 0l4.8-4.8M898.62 197.34m-3 0h6m-3-3v6m-2.4-5.4l4.8 4.8m-4.8 0l4.8-4.8M910.5 201.2m-3 0h6m-3-3v6m-2.4-5.4l4.8 4.8m-4.8 0l4.8-4.8M922.38 199.52m-3 0h6m-3-3v6m-2.4-5.4l4.8 4.8m-4.8 0l4.8-4.8M934.25 199.52m-3 0h6m-3-3v6m-2.4-5.4l4.8 4.8m-4.8 0l4.8-4.8M946.12 184.74m-3 0h6m-3-3v6m-2.4-5.4l4.8 4.8m-4.8 0l4.8-4.8M958 206.91m-3 0h6m-3-3v6m-2.4-5.4l4.8 4.8m-4.8 0l4.8-4.8"/>
<polyline fill="none" stroke="#ff0000" stroke-width="1.05" stroke-linejoin="round" points="673,206.24 684.88,214.22 696.75,211.11 708.62,209.43 720.5,207.92 732.38,202.71 744.25,209.6 756.12,211.11 768,202.04 779.88,197.34 791.75,206.24 803.62,201.2 815.5,195.99 827.38,206.24 839.25,213.8 851.12,207.42 863,185.91 874.88,182.72 886.75,193.14 898.62,184.4 910.5,187.93 922.38,186.25 934.25,187.93 946.12,192.8 958,189.61"/>
<path fill="none" stroke="#ff0000" stroke-width="1.05" d="M673 206.24m-3 0h6m-3-3v6m-2.4-5.4l4.8 4.8m-4.8 0l4.8-4.8M684.88 214.22m-3 0h6m-3-3v6m-2.4-5.4l4.8 4.8m-4.8 0l4.8-4.8M696.75 211.11m-3 0h6m-3-3v6m-2.4-5.4l4.8 4.8m-4.8 0l4.8-4.8M708.62 209.43m-3 0h6m-3-3v6m-2.4-5.4l4.8 4.8m-4.8 0l4.8-4.8M720.5 207.92m-3 0h6m-3-3v6m-2.4-5.4l4.8 4.8m-4.8 0l4.8-4.8M732.38 202.71m-3 0h6m-3-3v6m-2.4-5.4l4.8 4.8m-4.8 0l4.8-4.8M744.25 209.6m-3 0h6m-3-3v6m-2.4-5.4l4.8 4.8m-4.8 0l4.8-4.8M756.12 211.11m-3 0h6m-3-3v6m-2.4-5.4l4.8 4.8m-4.8 0l4.8-4.8M768 202.04m-3 0h6m-3-3v6m-2.4-5.4l4.8 4.8m-4.8 0l4.8-4.8M779.88 197.34m-3 0h6m-3-3v6m-2.4-5.4l4.8 4.8m-4.8 0l4.8-4.8M791.75 206.24m-3 0h6m-3-3v6m-2.4-5.4l4.8 4.8m-4.8 0l4.8-4.8M803.62 201.2m-3 0h6m-3-3v6m-2.4-5.4l4.8 4.8m-4.8 0l4.8-4.8M815.5 195.99m-3 0h6m-3-3v6m-2.4-5.4l4.8 4.8m-4.8 0l4.8-4.8M827.38 206.24m-3 0h6m-3-3v6m-2.4-5.4l4.8 4.8m-4.8 0l4.8-4.8M839.25 213.8m-3 0h6m-3-3v6m-2.4-5.4l4.8 4.8m-4.8 0l4.8-4.8M851.12 207.42m-3 0h6m-3-3v6m-2.4-5.4l4.8 4.8m-4.8 0l4.8-4.8M863 185.91m-3 0h6m-3-3v6m-2.4-5.4l4.8 4.8m-4.8 0l4.8-4.8M874.88 182.72m-3 0h6m-3-3v6m-2.4-5.4l4.8 4.8m-4.8 0l4.8-4.8M886.75 193.14m-3 0h6m-3-3v6m-2.4-5.4l4.8 4.8m-4.8 0l4.8-4.8M898.62 184.4m-3 0h6m-3-3v6m-2.4-5.4l4.8 4.8m-4.8 0l4.8-4.8M910.5 187.93m-3 0h6m-3-3v6m-2.4-5.4l4.8 4.8m-4.8 0l4.8-4.8M922.38 186.25m-3 0h6m-3-3v6m-2.4-5.4l4.8 4.8m-4.8 0l4.8-4.8M934.25 187.93m-3 0h6m-3-3v6m-2.4-5.4l4.8 4.8m-4.8 0l4.8-4.8M946.12 192.8m-3 0h6m-3-3v6m-2.4-5.4l4.8 4.8m-4.8 0l4.8-4.8M958 189.61m-3 0h6m-3-3v6m-2.4-5.4l4.8 4.8m-4.8 0l4.8-4.8"/>
</g>
<path class="k" d="M673 218h6.5M958 218h-6.5M673 209.6h3.5M958 209.6h-3.5M673 201.2h6.5M958 201.2h-6.5M673 192.8h3.5M958 192.8h-3.5M673 184.4h6.5M958 184.4h-6.5M673 176h3.5M958 176h-3.5M673 167.6h6.5M958 167.6h-6.5M673 159.2h3.5M958 159.2h-3.5M673 150.8h6.5M958 150.8h-6.5M673 142.4h3.5M958 142.4h-3.5M673 134h6.5M958 134h-6.5M673 134v6.5M673 218v-6.5M696.75 134v3.5M696.75 218v-3.5M720.5 134v6.5M720.5 218v-6.5M744.25 134v3.5M744.25 218v-3.5M768 134v6.5M768 218v-6.5M791.75 134v3.5M791.75 218v-3.5M815.5 134v6.5M815.5 218v-6.5M839.25 134v3.5M839.25 218v-3.5M863 134v6.5M863 218v-6.5M886.75 134v3.5M886.75 218v-3.5M910.5 134v6.5M910.5 218v-6.5M934.25 134v3.5M934.25 218v-3.5M958 134v6.5M958 218v-6.5"/>
<rect class="b" x="673" y="134" width="285" height="84"/>
<g clip-path="url(#e_FSP)">
<path fill="none" stroke="#00ffff" stroke-width="1.05" d="M673 187.59m-3 0h6m-3-3v6m-2.4-5.4l4.8 4.8m-4.8 0l4.8-4.8M958 147.94m-3 0h6m-3-3v6m-2.4-5.4l4.8 4.8m-4.8 0l4.8-4.8"/>
<path fill="none" stroke="#00ff00" stroke-width="1.05" d="M673 147.94m-3 0h6m-3-3v6m-2.4-5.4l4.8 4.8m-4.8 0l4.8-4.8M958 198.01m-3 0h6m-3-3v6m-2.4-5.4l4.8 4.8m-4.8 0l4.8-4.8"/>
<path fill="none" stroke="#0000ff" stroke-width="1.05" d="M673 197.34m-3 0h6m-3-3v6m-2.4-5.4l4.8 4.8m-4.8 0l4.8-4.8M803.62 214.22m-3 0h6m-3-3v6m-2.4-5.4l4.8 4.8m-4.8 0l4.8-4.8M958 206.91m-3 0h6m-3-3v6m-2.4-5.4l4.8 4.8m-4.8 0l4.8-4.8"/>
<path fill="none" stroke="#ff0000" stroke-width="1.05" d="M673 206.24m-3 0h6m-3-3v6m-2.4-5.4l4.8 4.8m-4.8 0l4.8-4.8M684.88 214.22m-3 0h6m-3-3v6m-2.4-5.4l4.8 4.8m-4.8 0l4.8-4.8M958 189.61m-3 0h6m-3-3v6m-2.4-5.4l4.8 4.8m-4.8 0l4.8-4.8"/>
</g>
<path class="g" d="M674 201.2H957M674 184.4H957M674 167.6H957M674 150.8H957M720.5 135V217M768 135V217M815.5 135V217M863 135V217M910.5 135V217"/>
<text class="t" text-anchor="end" x="668.4" y="220.55">10</text><text class="t" text-anchor="end" x="668.4" y="203.75">20</text><text class="t" text-anchor="end" x="668.4" y="186.95">30</text><text class="t" text-anchor="end" x="668.4" y="170.15">40</text><text class="t" text-anchor="end" x="668.4" y="153.35">50</text><text class="t" text-anchor="end" x="668.4" y="136.55">60</text>
<text class="t" text-anchor="middle" x="673.2" y="228.8">0</text><text class="t" text-anchor="middle" x="720.7" y="228.8">4</text><text class="t" text-anchor="middle" x="768.2" y="228.8">8</text><text class="t" text-anchor="middle" x="815.7" y="228.8">12</text><text class="t" text-anchor="middle" x="863.2" y="228.8">16</text><text class="t" text-anchor="middle" x="910.7" y="228.8">20</text><text class="t" text-anchor="middle" x="958.2" y="228.8">24</text>
<text class="p" x="902.5" y="130.5" textLength="15.7" lengthAdjust="spacingAndGlyphs">FSP</text><text class="p" x="922.4" y="130.5" textLength="36.7" lengthAdjust="spacingAndGlyphs">(ug/m3)</text>
</g>
<g id="panel_SO2">
<g clip-path="url(#c_SO2)">
<polyline fill="none" stroke="#00ffff" stroke-width="1.05" stroke-linejoin="round" points="23,319.19 58.62,283.58 70.5,301.41 82.38,319.19 94.25,319.19 106.12,319.19 118,301.41 129.88,301.41 141.75,319.19 153.62,319.19 165.5,319.19 177.38,319.19 189.25,319.19 201.12,319.19 213,319.19 224.88,319.19 236.75,319.19 248.62,319.19 260.5,301.41 272.38,319.19 284.25,301.41 296.12,319.19 308,319.19"/>
<path fill="none" stroke="#00ffff" stroke-width="1.05" d="M23 319.19m-3 0h6m-3-3v6m-2.4-5.4l4.8 4.8m-4.8 0l4.8-4.8M58.62 283.58m-3 0h6m-3-3v6m-2.4-5.4l4.8 4.8m-4.8 0l4.8-4.8M70.5 301.41m-3 0h6m-3-3v6m-2.4-5.4l4.8 4.8m-4.8 0l4.8-4.8M82.38 319.19m-3 0h6m-3-3v6m-2.4-5.4l4.8 4.8m-4.8 0l4.8-4.8M94.25 319.19m-3 0h6m-3-3v6m-2.4-5.4l4.8 4.8m-4.8 0l4.8-4.8M106.12 319.19m-3 0h6m-3-3v6m-2.4-5.4l4.8 4.8m-4.8 0l4.8-4.8M118 301.41m-3 0h6m-3-3v6m-2.4-5.4l4.8 4.8m-4.8 0l4.8-4.8M129.88 301.41m-3 0h6m-3-3v6m-2.4-5.4l4.8 4.8m-4.8 0l4.8-4.8M141.75 319.19m-3 0h6m-3-3v6m-2.4-5.4l4.8 4.8m-4.8 0l4.8-4.8M153.62 319.19m-3 0h6m-3-3v6m-2.4-5.4l4.8 4.8m-4.8 0l4.8-4.8M165.5 319.19m-3 0h6m-3-3v6m-2.4-5.4l4.8 4.8m-4.8 0l4.8-4.8M177.38 319.19m-3 0h6m-3-3v6m-2.4-5.4l4.8 4.8m-4.8 0l4.8-4.8M189.25 319.19m-3 0h6m-3-3v6m-2.4-5.4l4.8 4.8m-4.8 0l4.8-4.8M201.12 319.19m-3 0h6m-3-3v6m-2.4-5.4l4.8 4.8m-4.8 0l4.8-4.8M213 319.19m-3 0h6m-3-3v6m-2.4-5.4l4.8 4.8m-4.8 0l4.8-4.8M224.88 319.19m-3 0h6m-3-3v6m-2.4-5.4l4.8 4.8m-4.8 0l4.8-4.8M236.75 319.19m-3 0h6m-3-3v6m-2.4-5.4l4.8 4.8m-4.8 0l4.8-4.8M248.62 319.19m-3 0h6m-3-3v6m-2.4-5.4l4.8 4.8m-4.8 0l4.8-4.8M260.5 301.41m-3 0h6m-3-3v6m-2.4-5.4l4.8 4.8m-4.8 0l4.8-4.8M272.38 319.19m-3 0h6m-3-3v6m-2.4-5.4l4.8 4.8m-4.8 0l4.8-4.8M284.25 301.41m-3 0h6m-3-3v6m-2.4-5.4l4.8 4.8m-4.8 0l4.8-4.8M296.12 319.19m-3 0h6m-3-3v6m-2.4-5.4l4.8 4.8m-4.8 0l4.8-4.8M308 319.19m-3 0h6m-3-3v6m-2.4-5.4l4.8 4.8m-4.8 0l4.8-4.8"/>
<polyline fill="none" stroke="#00ff00" stroke-width="1.05" stroke-linejoin="round" points="23,319.19 34.88,301.41 46.75,283.58 58.62,248.07 70.5,265.8 82.38,301.41 94.25,319.19 106.12,319.19 118,319.19 129.88,319.19 141.75,319.19 153.62,319.19 165.5,319.19 177.38,319.19 189.25,319.19 201.12,319.19 213,319.19 224.88,319.19 236.75,301.41 248.62,301.41 260.5,301.41 272.38,283.58 284.25,301.41 296.12,301.41 308,283.58"/>
<path fill="none" stroke="#00ff00" stroke-width="1.05" d="M23 319.19m-3 0h6m-3-3v6m-2.4-5.4l4.8 4.8m-4.8 0l4.8-4.8M34.88 301.41m-3 0h6m-3-3v6m-2.4-5.4l4.8 4.8m-4.8 0l4.8-4.8M46.75 283.58m-3 0h6m-3-3v6m-2.4-5.4l4.8 4.8m-4.8 0l4.8-4.8M58.62 248.07m-3 0h6m-3-3v6m-2.4-5.4l4.8 4.8m-4.8 0l4.8-4.8M70.5 265.8m-3 0h6m-3-3v6m-2.4-5.4l4.8 4.8m-4.8 0l4.8-4.8M82.38 301.41m-3 0h6m-3-3v6m-2.4-5.4l4.8 4.8m-4.8 0l4.8-4.8M94.25 319.19m-3 0h6m-3-3v6m-2.4-5.4l4.8 4.8m-4.8 0l4.8-4.8M106.12 319.19m-3 0h6m-3-3v6m-2.4-5.4l4.8 4.8m-4.8 0l4.8-4.8M118 319.19m-3 0h6m-3-3v6m-2.4-5.4l4.8 4.8m-4.8 0l4.8-4.8M129.88 319.19m-3 0h6m-3-3v6m-2.4-5.4l4.8 4.8m-4.8 0l4.8-4.8M141.75 319.19m-3 0h6m-3-3v6m-2.4-5.4l4.8 4.8m-4.8 0l4.8-4.8M153.62 319.19m-3 0h6m-3-3v6m-2.4-5.4l4.8 4.8m-4.8 0l4.8-4.8M165.5 319.19m-3 0h6m-3-3v6m-2.4-5.4l4.8 4.8m-4.8 0l4.8-4.8M177.38 319.19m-3 0h6m-3-3v6m-2.4-5.4l4.8 4.8m-4.8 0l4.8-4.8M189.25 319.19m-3 0h6m-3-3v6m-2.4-5.4l4.8 4.8m-4.8 0l4.8-4.8M201.12 319.19m-3 0h6m-3-3v6m-2.4-5.4l4.8 4.8m-4.8 0l4.8-4.8M213 319.19m-3 0h6m-3-3v6m-2.4-5.4l4.8 4.8m-4.8 0l4.8-4.8M224.88 319.19m-3 0h6m-3-3v6m-2.4-5.4l4.8 4.8m-4.8 0l4.8-4.8M236.75 301.41m-3 0h6m-3-3v6m-2.4-5.4l4.8 4.8m-4.8 0l4.8-4.8M248.62 301.41m-3 0h6m-3-3v6m-2.4-5.4l4.8 4.8m-4.8 0l4.8-4.8M260.5 301.41m-3 0h6m-3-3v6m-2.4-5.4l4.8 4.8m-4.8 0l4.8-4.8M272.38 283.58m-3 0h6m-3-3v6m-2.4-5.4l4.8 4.8m-4.8 0l4.8-4.8M284.25 301.41m-3 0h6m-3-3v6m-2.4-5.4l4.8 4.8m-4.8 0l4.8-4.8M296.12 301.41m-3 0h6m-3-3v6m-2.4-5.4l4.8 4.8m-4.8 0l4.8-4.8M308 283.58m-3 0h6m-3-3v6m-2.4-5.4l4.8 4.8m-4.8 0l4.8-4.8"/>
<polyline fill="none" stroke="#0000ff" stroke-width="1.05" stroke-linejoin="round" points="23,283.58 46.75,248.07 58.62,265.8 70.5,283.58 82.38,283.58 94.25,283.58 106.12,283.58 118,283.58 129.88,283.58 141.75,301.41 153.62,319.19 165.5,301.41 177.38,301.41 189.25,319.19 201.12,319.19 213,319.19 224.88,301.41 236.75,319.19 248.62,319.19 260.5,319.19 272.38,319.19 284.25,301.41 296.12,301.41 308,319.19"/>
<path fill="none" stroke="#0000ff" stroke-width="1.05" d="M23 283.58m-3 0h6m-3-3v6m-2.4-5.4l4.8 4.8m-4.8 0l4.8-4.8M46.75 248.07m-3 0h6m-3-3v6m-2.4-5.4l4.8 4.8m-4.8 0l4.8-4.8M58.62 265.8m-3 0h6m-3-3v6m-2.4-5.4l4.8 4.8m-4.8 0l4.8-4.8M70.5 283.58m-3 0h6m-3-3v6m-2.4-5.4l4.8 4.8m-4.8 0l4.8-4.8M82.38 283.58m-3 0h6m-3-3v6m-2.4-5.4l4.8 4.8m-4.8 0l4.8-4.8M94.25 283.58m-3 0h6m-3-3v6m-2.4-5.4l4.8 4.8m-4.8 0l4.8-4.8M106.12 283.58m-3 0h6m-3-3v6m-2.4-5.4l4.8 4.8m-4.8 0l4.8-4.8M118 283.58m-3 0h6m-3-3v6m-2.4-5.4l4.8 4.8m-4.8 0l4.8-4.8M129.88 283.58m-3 0h6m-3-3v6m-2.4-5.4l4.8 4.8m-4.8 0l4.8-4.8M141.75 301.41m-3 0h6m-3-3v6m-2.4-5.4l4.8 4.8m-4.8 0l4.8-4.8M153.62 319.19m-3 0h6m-3-3v6m-2.4-5.4l4.8 4.8m-4.8 0l4.8-4.8M165.5 301.41m-3 0h6m-3-3v6m-2.4-5.4l4.8 4.8m-4.8 0l4.8-4.8M177.38 301.41m-3 0h6m-3-3v6m-2.4-5.4l4.8 4.8m-4.8 0l4.8-4.8M189.25 319.19m-3 0h6m-3-3v6m-2.4-5.4l4.8 4.8m-4.8 0l4.8-4.8M201.12 319.19m-3 0h6m-3-3v6m-2.4-5.4l4.8 4.8m-4.8 0l4.8-4.8M213 319.19m-3 0h6m-3-3v6m-2.4-5.4l4.8 4.8m-4.8 0l4.8-4.8M224.88 301.41m-3 0h6m-3-3v6m-2.4-5.4l4.8 4.8m-4.8 0l4.8-4.8M236.75 319.19m-3 0h6m-3-3v6m-2.4-5.4l4.8 4.8m-4.8 0l4.8-4.8M248.62 319.19m-3 0h6m-3-3v6m-2.4-5.4l4.8 4.8m-4.8 0l4.8-4.8M260.5 319.19m-3 0h6m-3-3v6m-2.4-5.4l4.8 4.8m-4.8 0l4.8-4.8M272.38 319.19m-3 0h6m-3-3v6m-2.4-5.4l4.8 4.8m-4.8 0l4.8-4.8M284.25 301.41m-3 0h6m-3-3v6m-2.4-5.4l4.8 4.8m-4.8 0l4.8-4.8M296.12 301.41m-3 0h6m-3-3v6m-2.4-5.4l4.8 4.8m-4.8 0l4.8-4.8M308 319.19m-3 0h6m-3-3v6m-2.4-5.4l4.8 4.8m-4.8 0l4.8-4.8"/>
<polyline fill="none" stroke="#ff0000" stroke-width="1.05" stroke-linejoin="round" points="23,319.19 34.88,319.19 46.75,319.19 58.62,265.8 70.5,319.19 82.38,319.19 94.25,319.19 106.12,283.58 118,265.8 129.88,283.58 141.75,283.58 153.62,283.58 165.5,283.58 177.38,283.58 189.25,283.58 201.12,283.58 213,265.8 224.88,283.58 236.75,283.58 248.62,283.58 260.5,283.58 272.38,283.58 284.25,301.41 296.12,301.41 308,319.19"/>
<path fill="none" stroke="#ff0000" stroke-width="1.05" d="M23 319.19m-3 0h6m-3-3v6m-2.4-5.4l4.8 4.8m-4.8 0l4.8-4.8M34.88 319.19m-3 0h6m-3-3v6m-2.4-5.4l4.8 4.8m-4.8 0l4.8-4.8M46.75 319.19m-3 0h6m-3-3v6m-2.4-5.4l4.8 4.8m-4.8 0l4.8-4.8M58.62 265.8m-3 0h6m-3-3v6m-2.4-5.4l4.8 4.8m-4.8 0l4.8-4.8M70.5 319.19m-3 0h6m-3-3v6m-2.4-5.4l4.8 4.8m-4.8 0l4.8-4.8M82.38 319.19m-3 0h6m-3-3v6m-2.4-5.4l4.8 4.8m-4.8 0l4.8-4.8M94.25 319.19m-3 0h6m-3-3v6m-2.4-5.4l4.8 4.8m-4.8 0l4.8-4.8M106.12 283.58m-3 0h6m-3-3v6m-2.4-5.4l4.8 4.8m-4.8 0l4.8-4.8M118 265.8m-3 0h6m-3-3v6m-2.4-5.4l4.8 4.8m-4.8 0l4.8-4.8M129.88 283.58m-3 0h6m-3-3v6m-2.4-5.4l4.8 4.8m-4.8 0l4.8-4.8M141.75 283.58m-3 0h6m-3-3v6m-2.4-5.4l4.8 4.8m-4.8 0l4.8-4.8M153.62 283.58m-3 0h6m-3-3v6m-2.4-5.4l4.8 4.8m-4.8 0l4.8-4.8M165.5 283.58m-3 0h6m-3-3v6m-2.4-5.4l4.8 4.8m-4.8 0l4.8-4.8M177.38 283.58m-3 0h6m-3-3v6m-2.4-5.4l4.8 4.8m-4.8 0l4.8-4.8M189.25 283.58m-3 0h6m-3-3v6m-2.4-5.4l4.8 4.8m-4.8 0l4.8-4.8M201.12 283.58m-3 0h6m-3-3v6m-2.4-5.4l4.8 4.8m-4.8 0l4.8-4.8M213 265.8m-3 0h6m-3-3v6m-2.4-5.4l4.8 4.8m-4.8 0l4.8-4.8M224.88 283.58m-3 0h6m-3-3v6m-2.4-5.4l4.8 4.8m-4.8 0l4.8-4.8M236.75 283.58m-3 0h6m-3-3v6m-2.4-5.4l4.8 4.8m-4.8 0l4.8-4.8M248.62 283.58m-3 0h6m-3-3v6m-2.4-5.4l4.8 4.8m-4.8 0l4.8-4.8M260.5 283.58m-3 0h6m-3-3v6m-2.4-5.4l4.8 4.8m-4.8 0l4.8-4.8M272.38 283.58m-3 0h6m-3-3v6m-2.4-5.4l4.8 4.8m-4.8 0l4.8-4.8M284.25 301.41m-3 0h6m-3-3v6m-2.4-5.4l4.8 4.8m-4.8 0l4.8-4.8M296.12 301.41m-3 0h6m-3-3v6m-2.4-5.4l4.8 4.8m-4.8 0l4.8-4.8M308 319.19m-3 0h6m-3-3v6m-2.4-5.4l4.8 4.8m-4.8 0l4.8-4.8"/>
</g>
<path class="k" d="M23 326h6.5M308 326h-6.5M23 321.33h3.5M308 321.33h-3.5M23 316.67h6.5M308 316.67h-6.5M23 312h3.5M308 312h-3.5M23 307.33h6.5M308 307.33h-6.5M23 302.67h3.5M308 302.67h-3.5M23 298h6.5M308 298h-6.5M23 293.33h3.5M308 293.33h-3.5M23 288.67h6.5M308 288.67h-6.5M23 284h3.5M308 284h-3.5M23 279.33h6.5M308 279.33h-6.5M23 274.67h3.5M308 274.67h-3.5M23 270h6.5M308 270h-6.5M23 265.33h3.5M308 265.33h-3.5M23 260.67h6.5M308 260.67h-6.5M23 256h3.5M308 256h-3.5M23 251.33h6.5M308 251.33h-6.5M23 246.67h3.5M308 246.67h-3.5M23 242h6.5M308 242h-6.5M23 242v6.5M23 326v-6.5M46.75 242v3.5M46.75 326v-3.5M70.5 242v6.5M70.5 326v-6.5M94.25 242v3.5M94.25 326v-3.5M118 242v6.5M118 326v-6.5M141.75 242v3.5M141.75 326v-3.5M165.5 242v6.5M165.5 326v-6.5M189.25 242v3.5M189.25 326v-3.5M213 242v6.5M213 326v-6.5M236.75 242v3.5M236.75 326v-3.5M260.5 242v6.5M260.5 326v-6.5M284.25 242v3.5M284.25 326v-3.5M308 242v6.5M308 326v-6.5"/>
<rect class="b" x="23" y="242" width="285" height="84"/>
<g clip-path="url(#e_SO2)">
<path fill="none" stroke="#00ffff" stroke-width="1.05" d="M23 319.19m-3 0h6m-3-3v6m-2.4-5.4l4.8 4.8m-4.8 0l4.8-4.8M308 319.19m-3 0h6m-3-3v6m-2.4-5.4l4.8 4.8m-4.8 0l4.8-4.8"/>
<path fill="none" stroke="#00ff00" stroke-width="1.05" d="M23 319.19m-3 0h6m-3-3v6m-2.4-5.4l4.8 4.8m-4.8 0l4.8-4.8M308 283.58m-3 0h6m-3-3v6m-2.4-5.4l4.8 4.8m-4.8 0l4.8-4.8"/>
<path fill="none" stroke="#0000ff" stroke-width="1.05" d="M23 283.58m-3 0h6m-3-3v6m-2.4-5.4l4.8 4.8m-4.8 0l4.8-4.8M308 319.19m-3 0h6m-3-3v6m-2.4-5.4l4.8 4.8m-4.8 0l4.8-4.8"/>
<path fill="none" stroke="#ff0000" stroke-width="1.05" d="M23 319.19m-3 0h6m-3-3v6m-2.4-5.4l4.8 4.8m-4.8 0l4.8-4.8M308 319.19m-3 0h6m-3-3v6m-2.4-5.4l4.8 4.8m-4.8 0l4.8-4.8"/>
</g>
<path class="g" d="M24 316.67H307M24 307.33H307M24 298H307M24 288.67H307M24 279.33H307M24 270H307M24 260.67H307M24 251.33H307M70.5 243V325M118 243V325M165.5 243V325M213 243V325M260.5 243V325"/>
<text class="t" text-anchor="end" x="18.4" y="328.55">1.0</text><text class="t" text-anchor="end" x="18.4" y="319.22">1.2</text><text class="t" text-anchor="end" x="18.4" y="309.88">1.4</text><text class="t" text-anchor="end" x="18.4" y="300.55">1.6</text><text class="t" text-anchor="end" x="18.4" y="291.22">1.8</text><text class="t" text-anchor="end" x="18.4" y="281.88">2.0</text><text class="t" text-anchor="end" x="18.4" y="272.55">2.2</text><text class="t" text-anchor="end" x="18.4" y="263.22">2.4</text><text class="t" text-anchor="end" x="18.4" y="253.88">2.6</text><text class="t" text-anchor="end" x="18.4" y="244.55">2.8</text>
<text class="t" text-anchor="middle" x="23.2" y="336.8">0</text><text class="t" text-anchor="middle" x="70.7" y="336.8">4</text><text class="t" text-anchor="middle" x="118.2" y="336.8">8</text><text class="t" text-anchor="middle" x="165.7" y="336.8">12</text><text class="t" text-anchor="middle" x="213.2" y="336.8">16</text><text class="t" text-anchor="middle" x="260.7" y="336.8">20</text><text class="t" text-anchor="middle" x="308.2" y="336.8">24</text>
<text class="p" x="266.9" y="238.5" textLength="15.2" lengthAdjust="spacingAndGlyphs">SO2</text><text class="p" x="286.2" y="238.5" textLength="22.9" lengthAdjust="spacingAndGlyphs">(ppb)</text>
</g>
<g id="panel_O3">
<g clip-path="url(#c_O3)">
<polyline fill="none" stroke="#00ffff" stroke-width="1.05" stroke-linejoin="round" points="348,290.24 383.62,282.32 395.5,278.72 407.38,269.6 419.25,281.24 431.12,295.52 443,309.56 454.88,306.44 466.75,285.44 478.62,286.04 490.5,275.96 502.38,282.32 514.25,280.64 526.12,282.68 538,291.68 549.88,291.08 561.75,300.8 573.62,304.4 585.5,314.84 597.38,317.96 609.25,321.2 621.12,304.4 633,295.52"/>
<path fill="none" stroke="#00ffff" stroke-width="1.05" d="M348 290.24m-3 0h6m-3-3v6m-2.4-5.4l4.8 4.8m-4.8 0l4.8-4.8M383.62 282.32m-3 0h6m-3-3v6m-2.4-5.4l4.8 4.8m-4.8 0l4.8-4.8M395.5 278.72m-3 0h6m-3-3v6m-2.4-5.4l4.8 4.8m-4.8 0l4.8-4.8M407.38 269.6m-3 0h6m-3-3v6m-2.4-5.4l4.8 4.8m-4.8 0l4.8-4.8M419.25 281.24m-3 0h6m-3-3v6m-2.4-5.4l4.8 4.8m-4.8 0l4.8-4.8M431.12 295.52m-3 0h6m-3-3v6m-2.4-5.4l4.8 4.8m-4.8 0l4.8-4.8M443 309.56m-3 0h6m-3-3v6m-2.4-5.4l4.8 4.8m-4.8 0l4.8-4.8M454.88 306.44m-3 0h6m-3-3v6m-2.4-5.4l4.8 4.8m-4.8 0l4.8-4.8M466.75 285.44m-3 0h6m-3-3v6m-2.4-5.4l4.8 4.8m-4.8 0l4.8-4.8M478.62 286.04m-3 0h6m-3-3v6m-2.4-5.4l4.8 4.8m-4.8 0l4.8-4.8M490.5 275.96m-3 0h6m-3-3v6m-2.4-5.4l4.8 4.8m-4.8 0l4.8-4.8M502.38 282.32m-3 0h6m-3-3v6m-2.4-5.4l4.8 4.8m-4.8 0l4.8-4.8M514.25 280.64m-3 0h6m-3-3v6m-2.4-5.4l4.8 4.8m-4.8 0l4.8-4.8M526.12 282.68m-3 0h6m-3-3v6m-2.4-5.4l4.8 4.8m-4.8 0l4.8-4.8M538 291.68m-3 0h6m-3-3v6m-2.4-5.4l4.8 4.8m-4.8 0l4.8-4.8M549.88 291.08m-3 0h6m-3-3v6m-2.4-5.4l4.8 4.8m-4.8 0l4.8-4.8M561.75 300.8m-3 0h6m-3-3v6m-2.4-5.4l4.8 4.8m-4.8 0l4.8-4.8M573.62 304.4m-3 0h6m-3-3v6m-2.4-5.4l4.8 4.8m-4.8 0l4.8-4.8M585.5 314.84m-3 0h6m-3-3v6m-2.4-5.4l4.8 4.8m-4.8 0l4.8-4.8M597.38 317.96m-3 0h6m-3-3v6m-2.4-5.4l4.8 4.8m-4.8 0l4.8-4.8M609.25 321.2m-3 0h6m-3-3v6m-2.4-5.4l4.8 4.8m-4.8 0l4.8-4.8M621.12 304.4m-3 0h6m-3-3v6m-2.4-5.4l4.8 4.8m-4.8 0l4.8-4.8M633 295.52m-3 0h6m-3-3v6m-2.4-5.4l4.8 4.8m-4.8 0l4.8-4.8"/>
<polyline fill="none" stroke="#00ff00" stroke-width="1.05" stroke-linejoin="round" points="348,294.8 359.88,317 371.75,324.32 383.62,324.32 395.5,324.32 407.38,320.12 419.25,317.96 431.12,320.48 443,324.32 454.88,323.24 466.75,314.84 478.62,315.44 490.5,317 502.38,315.44 514.25,313.4 526.12,306.44 538,304.4 549.88,310.04 561.75,314.84 573.62,319.64 585.5,317 597.38,317.96 609.25,317.6 621.12,317 633,317.96"/>
<path fill="none" stroke="#00ff00" stroke-width="1.05" d="M348 294.8m-3 0h6m-3-3v6m-2.4-5.4l4.8 4.8m-4.8 0l4.8-4.8M359.88 317m-3 0h6m-3-3v6m-2.4-5.4l4.8 4.8m-4.8 0l4.8-4.8M371.75 324.32m-3 0h6m-3-3v6m-2.4-5.4l4.8 4.8m-4.8 0l4.8-4.8M383.62 324.32m-3 0h6m-3-3v6m-2.4-5.4l4.8 4.8m-4.8 0l4.8-4.8M395.5 324.32m-3 0h6m-3-3v6m-2.4-5.4l4.8 4.8m-4.8 0l4.8-4.8M407.38 320.12m-3 0h6m-3-3v6m-2.4-5.4l4.8 4.8m-4.8 0l4.8-4.8M419.25 317.96m-3 0h6m-3-3v6m-2.4-5.4l4.8 4.8m-4.8 0l4.8-4.8M431.12 320.48m-3 0h6m-3-3v6m-2.4-5.4l4.8 4.8m-4.8 0l4.8-4.8M443 324.32m-3 0h6m-3-3v6m-2.4-5.4l4.8 4.8m-4.8 0l4.8-4.8M454.88 323.24m-3 0h6m-3-3v6m-2.4-5.4l4.8 4.8m-4.8 0l4.8-4.8M466.75 314.84m-3 0h6m-3-3v6m-2.4-5.4l4.8 4.8m-4.8 0l4.8-4.8M478.62 315.44m-3 0h6m-3-3v6m-2.4-5.4l4.8 4.8m-4.8 0l4.8-4.8M490.5 317m-3 0h6m-3-3v6m-2.4-5.4l4.8 4.8m-4.8 0l4.8-4.8M502.38 315.44m-3 0h6m-3-3v6m-2.4-5.4l4.8 4.8m-4.8 0l4.8-4.8M514.25 313.4m-3 0h6m-3-3v6m-2.4-5.4l4.8 4.8m-4.8 0l4.8-4.8M526.12 306.44m-3 0h6m-3-3v6m-2.4-5.4l4.8 4.8m-4.8 0l4.8-4.8M538 304.4m-3 0h6m-3-3v6m-2.4-5.4l4.8 4.8m-4.8 0l4.8-4.8M549.88 310.04m-3 0h6m-3-3v6m-2.4-5.4l4.8 4.8m-4.8 0l4.8-4.8M561.75 314.84m-3 0h6m-3-3v6m-2.4-5.4l4.8 4.8m-4.8 0l4.8-4.8M573.62 319.64m-3 0h6m-3-3v6m-2.4-5.4l4.8 4.8m-4.8 0l4.8-4.8M585.5 317m-3 0h6m-3-3v6m-2.4-5.4l4.8 4.8m-4.8 0l4.8-4.8M597.38 317.96m-3 0h6m-3-3v6m-2.4-5.4l4.8 4.8m-4.8 0l4.8-4.8M609.25 317.6m-3 0h6m-3-3v6m-2.4-5.4l4.8 4.8m-4.8 0l4.8-4.8M621.12 317m-3 0h6m-3-3v6m-2.4-5.4l4.8 4.8m-4.8 0l4.8-4.8M633 317.96m-3 0h6m-3-3v6m-2.4-5.4l4.8 4.8m-4.8 0l4.8-4.8"/>
<polyline fill="none" stroke="#0000ff" stroke-width="1.05" stroke-linejoin="round" points="348,317.96 371.75,317.36 383.62,320.72 395.5,320.72 407.38,320.72 419.25,323.9 431.12,321.8 443,320.12 454.88,313.16 466.75,299.72 478.62,289.64 490.5,280.64 502.38,272.12 514.25,263.96 526.12,254.96 538,245.48 549.88,261.92 561.75,281.84 573.62,282.92 585.5,289.04 597.38,298.4 609.25,316.4 621.12,316.4 633,303.32"/>
<path fill="none" stroke="#0000ff" stroke-width="1.05" d="M348 317.96m-3 0h6m-3-3v6m-2.4-5.4l4.8 4.8m-4.8 0l4.8-4.8M371.75 317.36m-3 0h6m-3-3v6m-2.4-5.4l4.8 4.8m-4.8 0l4.8-4.8M383.62 320.72m-3 0h6m-3-3v6m-2.4-5.4l4.8 4.8m-4.8 0l4.8-4.8M395.5 320.72m-3 0h6m-3-3v6m-2.4-5.4l4.8 4.8m-4.8 0l4.8-4.8M407.38 320.72m-3 0h6m-3-3v6m-2.4-5.4l4.8 4.8m-4.8 0l4.8-4.8M419.25 323.9m-3 0h6m-3-3v6m-2.4-5.4l4.8 4.8m-4.8 0l4.8-4.8M431.12 321.8m-3 0h6m-3-3v6m-2.4-5.4l4.8 4.8m-4.8 0l4.8-4.8M443 320.12m-3 0h6m-3-3v6m-2.4-5.4l4.8 4.8m-4.8 0l4.8-4.8M454.88 313.16m-3 0h6m-3-3v6m-2.4-5.4l4.8 4.8m-4.8 0l4.8-4.8M466.75 299.72m-3 0h6m-3-3v6m-2.4-5.4l4.8 4.8m-4.8 0l4.8-4.8M478.62 289.64m-3 0h6m-3-3v6m-2.4-5.4l4.8 4.8m-4.8 0l4.8-4.8M490.5 280.64m-3 0h6m-3-3v6m-2.4-5.4l4.8 4.8m-4.8 0l4.8-4.8M502.38 272.12m-3 0h6m-3-3v6m-2.4-5.4l4.8 4.8m-4.8 0l4.8-4.8M514.25 263.96m-3 0h6m-3-3v6m-2.4-5.4l4.8 4.8m-4.8 0l4.8-4.8M526.12 254.96m-3 0h6m-3-3v6m-2.4-5.4l4.8 4.8m-4.8 0l4.8-4.8M538 245.48m-3 0h6m-3-3v6m-2.4-5.4l4.8 4.8m-4.8 0l4.8-4.8M549.88 261.92m-3 0h6m-3-3v6m-2.4-5.4l4.8 4.8m-4.8 0l4.8-4.8M561.75 281.84m-3 0h6m-3-3v6m-2.4-5.4l4.8 4.8m-4.8 0l4.8-4.8M573.62 282.92m-3 0h6m-3-3v6m-2.4-5.4l4.8 4.8m-4.8 0l4.8-4.8M585.5 289.04m-3 0h6m-3-3v6m-2.4-5.4l4.8 4.8m-4.8 0l4.8-4.8M597.38 298.4m-3 0h6m-3-3v6m-2.4-5.4l4.8 4.8m-4.8 0l4.8-4.8M609.25 316.4m-3 0h6m-3-3v6m-2.4-5.4l4.8 4.8m-4.8 0l4.8-4.8M621.12 316.4m-3 0h6m-3-3v6m-2.4-5.4l4.8 4.8m-4.8 0l4.8-4.8M633 303.32m-3 0h6m-3-3v6m-2.4-5.4l4.8 4.8m-4.8 0l4.8-4.8"/>
<polyline fill="none" stroke="#ff0000" stroke-width="1.05" stroke-linejoin="round" points="348,303.92 359.88,306.08 371.75,311.12 383.62,320.72 395.5,320.72 407.38,317.96 419.25,319.52 431.12,323.9 443,322.88 454.88,315.92 466.75,310.64 478.62,303.32 490.5,288.56 502.38,267.56 514.25,266 526.12,272.84 538,280.16 549.88,285.8 561.75,290 573.62,307.52 585.5,314.84 597.38,310.28 609.25,301.64 621.12,302.84 633,293.84"/>
<path fill="none" stroke="#ff0000" stroke-width="1.05" d="M348 303.92m-3 0h6m-3-3v6m-2.4-5.4l4.8 4.8m-4.8 0l4.8-4.8M359.88 306.08m-3 0h6m-3-3v6m-2.4-5.4l4.8 4.8m-4.8 0l4.8-4.8M371.75 311.12m-3 0h6m-3-3v6m-2.4-5.4l4.8 4.8m-4.8 0l4.8-4.8M383.62 320.72m-3 0h6m-3-3v6m-2.4-5.4l4.8 4.8m-4.8 0l4.8-4.8M395.5 320.72m-3 0h6m-3-3v6m-2.4-5.4l4.8 4.8m-4.8 0l4.8-4.8M407.38 317.96m-3 0h6m-3-3v6m-2.4-5.4l4.8 4.8m-4.8 0l4.8-4.8M419.25 319.52m-3 0h6m-3-3v6m-2.4-5.4l4.8 4.8m-4.8 0l4.8-4.8M431.12 323.9m-3 0h6m-3-3v6m-2.4-5.4l4.8 4.8m-4.8 0l4.8-4.8M443 322.88m-3 0h6m-3-3v6m-2.4-5.4l4.8 4.8m-4.8 0l4.8-4.8M454.88 315.92m-3 0h6m-3-3v6m-2.4-5.4l4.8 4.8m-4.8 0l4.8-4.8M466.75 310.64m-3 0h6m-3-3v6m-2.4-5.4l4.8 4.8m-4.8 0l4.8-4.8M478.62 303.32m-3 0h6m-3-3v6m-2.4-5.4l4.8 4.8m-4.8 0l4.8-4.8M490.5 288.56m-3 0h6m-3-3v6m-2.4-5.4l4.8 4.8m-4.8 0l4.8-4.8M502.38 267.56m-3 0h6m-3-3v6m-2.4-5.4l4.8 4.8m-4.8 0l4.8-4.8M514.25 266m-3 0h6m-3-3v6m-2.4-5.4l4.8 4.8m-4.8 0l4.8-4.8M526.12 272.84m-3 0h6m-3-3v6m-2.4-5.4l4.8 4.8m-4.8 0l4.8-4.8M538 280.16m-3 0h6m-3-3v6m-2.4-5.4l4.8 4.8m-4.8 0l4.8-4.8M549.88 285.8m-3 0h6m-3-3v6m-2.4-5.4l4.8 4.8m-4.8 0l4.8-4.8M561.75 290m-3 0h6m-3-3v6m-2.4-5.4l4.8 4.8m-4.8 0l4.8-4.8M573.62 307.52m-3 0h6m-3-3v6m-2.4-5.4l4.8 4.8m-4.8 0l4.8-4.8M585.5 314.84m-3 0h6m-3-3v6m-2.4-5.4l4.8 4.8m-4.8 0l4.8-4.8M597.38 310.28m-3 0h6m-3-3v6m-2.4-5.4l4.8 4.8m-4.8 0l4.8-4.8M609.25 301.64m-3 0h6m-3-3v6m-2.4-5.4l4.8 4.8m-4.8 0l4.8-4.8M621.12 302.84m-3 0h6m-3-3v6m-2.4-5.4l4.8 4.8m-4.8 0l4.8-4.8M633 293.84m-3 0h6m-3-3v6m-2.4-5.4l4.8 4.8m-4.8 0l4.8-4.8"/>
</g>
<path class="k" d="M348 326h6.5M633 326h-6.5M348 320h3.5M633 320h-3.5M348 314h6.5M633 314h-6.5M348 308h3.5M633 308h-3.5M348 302h6.5M633 302h-6.5M348 296h3.5M633 296h-3.5M348 290h6.5M633 290h-6.5M348 284h3.5M633 284h-3.5M348 278h6.5M633 278h-6.5M348 272h3.5M633 272h-3.5M348 266h6.5M633 266h-6.5M348 260h3.5M633 260h-3.5M348 254h6.5M633 254h-6.5M348 248h3.5M633 248h-3.5M348 242h6.5M633 242h-6.5M348 242v6.5M348 326v-6.5M371.75 242v3.5M371.75 326v-3.5M395.5 242v6.5M395.5 326v-6.5M419.25 242v3.5M419.25 326v-3.5M443 242v6.5M443 326v-6.5M466.75 242v3.5M466.75 326v-3.5M490.5 242v6.5M490.5 326v-6.5M514.25 242v3.5M514.25 326v-3.5M538 242v6.5M538 326v-6.5M561.75 242v3.5M561.75 326v-3.5M585.5 242v6.5M585.5 326v-6.5M609.25 242v3.5M609.25 326v-3.5M633 242v6.5M633 326v-6.5"/>
<rect class="b" x="348" y="242" width="285" height="84"/>
<g clip-path="url(#e_O3)">
<path fill="none" stroke="#00ffff" stroke-width="1.05" d="M348 290.24m-3 0h6m-3-3v6m-2.4-5.4l4.8 4.8m-4.8 0l4.8-4.8M633 295.52m-3 0h6m-3-3v6m-2.4-5.4l4.8 4.8m-4.8 0l4.8-4.8"/>
<path fill="none" stroke="#00ff00" stroke-width="1.05" d="M348 294.8m-3 0h6m-3-3v6m-2.4-5.4l4.8 4.8m-4.8 0l4.8-4.8M371.75 324.32m-3 0h6m-3-3v6m-2.4-5.4l4.8 4.8m-4.8 0l4.8-4.8M383.62 324.32m-3 0h6m-3-3v6m-2.4-5.4l4.8 4.8m-4.8 0l4.8-4.8M395.5 324.32m-3 0h6m-3-3v6m-2.4-5.4l4.8 4.8m-4.8 0l4.8-4.8M443 324.32m-3 0h6m-3-3v6m-2.4-5.4l4.8 4.8m-4.8 0l4.8-4.8M454.88 323.24m-3 0h6m-3-3v6m-2.4-5.4l4.8 4.8m-4.8 0l4.8-4.8M633 317.96m-3 0h6m-3-3v6m-2.4-5.4l4.8 4.8m-4.8 0l4.8-4.8"/>
<path fill="none" stroke="#0000ff" stroke-width="1.05" d="M348 317.96m-3 0h6m-3-3v6m-2.4-5.4l4.8 4.8m-4.8 0l4.8-4.8M419.25 323.9m-3 0h6m-3-3v6m-2.4-5.4l4.8 4.8m-4.8 0l4.8-4.8M538 245.48m-3 0h6m-3-3v6m-2.4-5.4l4.8 4.8m-4.8 0l4.8-4.8M633 303.32m-3 0h6m-3-3v6m-2.4-5.4l4.8 4.8m-4.8 0l4.8-4.8"/>
<path fill="none" stroke="#ff0000" stroke-width="1.05" d="M348 303.92m-3 0h6m-3-3v6m-2.4-5.4l4.8 4.8m-4.8 0l4.8-4.8M431.12 323.9m-3 0h6m-3-3v6m-2.4-5.4l4.8 4.8m-4.8 0l4.8-4.8M443 322.88m-3 0h6m-3-3v6m-2.4-5.4l4.8 4.8m-4.8 0l4.8-4.8M633 293.84m-3 0h6m-3-3v6m-2.4-5.4l4.8 4.8m-4.8 0l4.8-4.8"/>
</g>
<path class="g" d="M349 314H632M349 302H632M349 290H632M349 278H632M349 266H632M349 254H632M395.5 243V325M443 243V325M490.5 243V325M538 243V325M585.5 243V325"/>
<text class="t" text-anchor="end" x="343.4" y="328.55">0</text><text class="t" text-anchor="end" x="343.4" y="316.55">10</text><text class="t" text-anchor="end" x="343.4" y="304.55">20</text><text class="t" text-anchor="end" x="343.4" y="292.55">30</text><text class="t" text-anchor="end" x="343.4" y="280.55">40</text><text class="t" text-anchor="end" x="343.4" y="268.55">50</text><text class="t" text-anchor="end" x="343.4" y="256.55">60</text><text class="t" text-anchor="end" x="343.4" y="244.55">70</text>
<text class="t" text-anchor="middle" x="348.2" y="336.8">0</text><text class="t" text-anchor="middle" x="395.7" y="336.8">4</text><text class="t" text-anchor="middle" x="443.2" y="336.8">8</text><text class="t" text-anchor="middle" x="490.7" y="336.8">12</text><text class="t" text-anchor="middle" x="538.2" y="336.8">16</text><text class="t" text-anchor="middle" x="585.7" y="336.8">20</text><text class="t" text-anchor="middle" x="633.2" y="336.8">24</text>
<text class="p" x="597.4" y="238.5" textLength="10.6" lengthAdjust="spacingAndGlyphs">O3</text><text class="p" x="611.7" y="238.5" textLength="22.4" lengthAdjust="spacingAndGlyphs">(ppb)</text>
</g>
<g id="panel_CO">
<g clip-path="url(#c_CO)">
<polyline fill="none" stroke="#00ffff" stroke-width="1.05" stroke-linejoin="round" points="673,296.32 708.62,300.1 720.5,304.3 732.38,308.5 744.25,303.32 756.12,298.42 768,277 779.88,287.5 791.75,297.44 803.62,298.42 815.5,299.12 827.38,298 839.25,298 851.12,297.02 863,293.8 874.88,284.84 886.75,276.02 898.62,272.8 910.5,269.65 922.38,279.1 934.25,279.52 946.12,284 958,283.3"/>
<path fill="none" stroke="#00ffff" stroke-width="1.05" d="M673 296.32m-3 0h6m-3-3v6m-2.4-5.4l4.8 4.8m-4.8 0l4.8-4.8M708.62 300.1m-3 0h6m-3-3v6m-2.4-5.4l4.8 4.8m-4.8 0l4.8-4.8M720.5 304.3m-3 0h6m-3-3v6m-2.4-5.4l4.8 4.8m-4.8 0l4.8-4.8M732.38 308.5m-3 0h6m-3-3v6m-2.4-5.4l4.8 4.8m-4.8 0l4.8-4.8M744.25 303.32m-3 0h6m-3-3v6m-2.4-5.4l4.8 4.8m-4.8 0l4.8-4.8M756.12 298.42m-3 0h6m-3-3v6m-2.4-5.4l4.8 4.8m-4.8 0l4.8-4.8M768 277m-3 0h6m-3-3v6m-2.4-5.4l4.8 4.8m-4.8 0l4.8-4.8M779.88 287.5m-3 0h6m-3-3v6m-2.4-5.4l4.8 4.8m-4.8 0l4.8-4.8M791.75 297.44m-3 0h6m-3-3v6m-2.4-5.4l4.8 4.8m-4.8 0l4.8-4.8M803.62 298.42m-3 0h6m-3-3v6m-2.4-5.4l4.8 4.8m-4.8 0l4.8-4.8M815.5 299.12m-3 0h6m-3-3v6m-2.4-5.4l4.8 4.8m-4.8 0l4.8-4.8M827.38 298m-3 0h6m-3-3v6m-2.4-5.4l4.8 4.8m-4.8 0l4.8-4.8M839.25 298m-3 0h6m-3-3v6m-2.4-5.4l4.8 4.8m-4.8 0l4.8-4.8M851.12 297.02m-3 0h6m-3-3v6m-2.4-5.4l4.8 4.8m-4.8 0l4.8-4.8M863 293.8m-3 0h6m-3-3v6m-2.4-5.4l4.8 4.8m-4.8 0l4.8-4.8M874.88 284.84m-3 0h6m-3-3v6m-2.4-5.4l4.8 4.8m-4.8 0l4.8-4.8M886.75 276.02m-3 0h6m-3-3v6m-2.4-5.4l4.8 4.8m-4.8 0l4.8-4.8M898.62 272.8m-3 0h6m-3-3v6m-2.4-5.4l4.8 4.8m-4.8 0l4.8-4.8M910.5 269.65m-3 0h6m-3-3v6m-2.4-5.4l4.8 4.8m-4.8 0l4.8-4.8M922.38 279.1m-3 0h6m-3-3v6m-2.4-5.4l4.8 4.8m-4.8 0l4.8-4.8M934.25 279.52m-3 0h6m-3-3v6m-2.4-5.4l4.8 4.8m-4.8 0l4.8-4.8M946.12 284m-3 0h6m-3-3v6m-2.4-5.4l4.8 4.8m-4.8 0l4.8-4.8M958 283.3m-3 0h6m-3-3v6m-2.4-5.4l4.8 4.8m-4.8 0l4.8-4.8"/>
<polyline fill="none" stroke="#00ff00" stroke-width="1.05" stroke-linejoin="round" points="673,282.32 684.88,263.28 696.75,253.48 708.62,256.98 720.5,258.1 732.38,265.38 744.25,268.18 756.12,265.38 768,256 779.88,254.88 791.75,263.28 803.62,264.4 815.5,262.3 827.38,257.68 839.25,252.36 851.12,259.78 863,259.78 874.88,254.88 886.75,249.7 898.62,245.5 910.5,246.48 922.38,247.6 934.25,253.2 946.12,256 958,255.3"/>
<path fill="none" stroke="#00ff00" stroke-width="1.05" d="M673 282.32m-3 0h6m-3-3v6m-2.4-5.4l4.8 4.8m-4.8 0l4.8-4.8M684.88 263.28m-3 0h6m-3-3v6m-2.4-5.4l4.8 4.8m-4.8 0l4.8-4.8M696.75 253.48m-3 0h6m-3-3v6m-2.4-5.4l4.8 4.8m-4.8 0l4.8-4.8M708.62 256.98m-3 0h6m-3-3v6m-2.4-5.4l4.8 4.8m-4.8 0l4.8-4.8M720.5 258.1m-3 0h6m-3-3v6m-2.4-5.4l4.8 4.8m-4.8 0l4.8-4.8M732.38 265.38m-3 0h6m-3-3v6m-2.4-5.4l4.8 4.8m-4.8 0l4.8-4.8M744.25 268.18m-3 0h6m-3-3v6m-2.4-5.4l4.8 4.8m-4.8 0l4.8-4.8M756.12 265.38m-3 0h6m-3-3v6m-2.4-5.4l4.8 4.8m-4.8 0l4.8-4.8M768 256m-3 0h6m-3-3v6m-2.4-5.4l4.8 4.8m-4.8 0l4.8-4.8M779.88 254.88m-3 0h6m-3-3v6m-2.4-5.4l4.8 4.8m-4.8 0l4.8-4.8M791.75 263.28m-3 0h6m-3-3v6m-2.4-5.4l4.8 4.8m-4.8 0l4.8-4.8M803.62 264.4m-3 0h6m-3-3v6m-2.4-5.4l4.8 4.8m-4.8 0l4.8-4.8M815.5 262.3m-3 0h6m-3-3v6m-2.4-5.4l4.8 4.8m-4.8 0l4.8-4.8M827.38 257.68m-3 0h6m-3-3v6m-2.4-5.4l4.8 4.8m-4.8 0l4.8-4.8M839.25 252.36m-3 0h6m-3-3v6m-2.4-5.4l4.8 4.8m-4.8 0l4.8-4.8M851.12 259.78m-3 0h6m-3-3v6m-2.4-5.4l4.8 4.8m-4.8 0l4.8-4.8M863 259.78m-3 0h6m-3-3v6m-2.4-5.4l4.8 4.8m-4.8 0l4.8-4.8M874.88 254.88m-3 0h6m-3-3v6m-2.4-5.4l4.8 4.8m-4.8 0l4.8-4.8M886.75 249.7m-3 0h6m-3-3v6m-2.4-5.4l4.8 4.8m-4.8 0l4.8-4.8M898.62 245.5m-3 0h6m-3-3v6m-2.4-5.4l4.8 4.8m-4.8 0l4.8-4.8M910.5 246.48m-3 0h6m-3-3v6m-2.4-5.4l4.8 4.8m-4.8 0l4.8-4.8M922.38 247.6m-3 0h6m-3-3v6m-2.4-5.4l4.8 4.8m-4.8 0l4.8-4.8M934.25 253.2m-3 0h6m-3-3v6m-2.4-5.4l4.8 4.8m-4.8 0l4.8-4.8M946.12 256m-3 0h6m-3-3v6m-2.4-5.4l4.8 4.8m-4.8 0l4.8-4.8M958 255.3m-3 0h6m-3-3v6m-2.4-5.4l4.8 4.8m-4.8 0l4.8-4.8"/>
<polyline fill="none" stroke="#0000ff" stroke-width="1.05" stroke-linejoin="round" points="673,255.3 696.75,259.78 708.62,256.98 720.5,258.1 732.38,263.28 744.25,258.1 756.12,258.1 768,262.3 779.88,270.7 791.75,281.2 803.62,286.1 815.5,291 827.38,292.4 839.25,294.5 851.12,293.24 863,292.4 874.88,284.42 886.75,277 898.62,281.2 910.5,279.52 922.38,280.64 934.25,262.3 946.12,268.18 958,293.8"/>
<path fill="none" stroke="#0000ff" stroke-width="1.05" d="M673 255.3m-3 0h6m-3-3v6m-2.4-5.4l4.8 4.8m-4.8 0l4.8-4.8M696.75 259.78m-3 0h6m-3-3v6m-2.4-5.4l4.8 4.8m-4.8 0l4.8-4.8M708.62 256.98m-3 0h6m-3-3v6m-2.4-5.4l4.8 4.8m-4.8 0l4.8-4.8M720.5 258.1m-3 0h6m-3-3v6m-2.4-5.4l4.8 4.8m-4.8 0l4.8-4.8M732.38 263.28m-3 0h6m-3-3v6m-2.4-5.4l4.8 4.8m-4.8 0l4.8-4.8M744.25 258.1m-3 0h6m-3-3v6m-2.4-5.4l4.8 4.8m-4.8 0l4.8-4.8M756.12 258.1m-3 0h6m-3-3v6m-2.4-5.4l4.8 4.8m-4.8 0l4.8-4.8M768 262.3m-3 0h6m-3-3v6m-2.4-5.4l4.8 4.8m-4.8 0l4.8-4.8M779.88 270.7m-3 0h6m-3-3v6m-2.4-5.4l4.8 4.8m-4.8 0l4.8-4.8M791.75 281.2m-3 0h6m-3-3v6m-2.4-5.4l4.8 4.8m-4.8 0l4.8-4.8M803.62 286.1m-3 0h6m-3-3v6m-2.4-5.4l4.8 4.8m-4.8 0l4.8-4.8M815.5 291m-3 0h6m-3-3v6m-2.4-5.4l4.8 4.8m-4.8 0l4.8-4.8M827.38 292.4m-3 0h6m-3-3v6m-2.4-5.4l4.8 4.8m-4.8 0l4.8-4.8M839.25 294.5m-3 0h6m-3-3v6m-2.4-5.4l4.8 4.8m-4.8 0l4.8-4.8M851.12 293.24m-3 0h6m-3-3v6m-2.4-5.4l4.8 4.8m-4.8 0l4.8-4.8M863 292.4m-3 0h6m-3-3v6m-2.4-5.4l4.8 4.8m-4.8 0l4.8-4.8M874.88 284.42m-3 0h6m-3-3v6m-2.4-5.4l4.8 4.8m-4.8 0l4.8-4.8M886.75 277m-3 0h6m-3-3v6m-2.4-5.4l4.8 4.8m-4.8 0l4.8-4.8M898.62 281.2m-3 0h6m-3-3v6m-2.4-5.4l4.8 4.8m-4.8 0l4.8-4.8M910.5 279.52m-3 0h6m-3-3v6m-2.4-5.4l4.8 4.8m-4.8 0l4.8-4.8M922.38 280.64m-3 0h6m-3-3v6m-2.4-5.4l4.8 4.8m-4.8 0l4.8-4.8M934.25 262.3m-3 0h6m-3-3v6m-2.4-5.4l4.8 4.8m-4.8 0l4.8-4.8M946.12 268.18m-3 0h6m-3-3v6m-2.4-5.4l4.8 4.8m-4.8 0l4.8-4.8M958 293.8m-3 0h6m-3-3v6m-2.4-5.4l4.8 4.8m-4.8 0l4.8-4.8"/>
<polyline fill="none" stroke="#ff0000" stroke-width="1.05" stroke-linejoin="round" points="673,293.24 684.88,294.92 696.75,290.02 708.62,286.52 720.5,287.5 732.38,290.02 744.25,285.4 756.12,271.75 768,274.48 779.88,286.52 791.75,289.18 803.62,290.02 815.5,298.42 827.38,314.38 839.25,314.38 851.12,302.2 863,293.24 874.88,295.48 886.75,287.5 898.62,281.2 910.5,285.4 922.38,278.12 934.25,286.1 946.12,284.42 958,294.92"/>
<path fill="none" stroke="#ff0000" stroke-width="1.05" d="M673 293.24m-3 0h6m-3-3v6m-2.4-5.4l4.8 4.8m-4.8 0l4.8-4.8M684.88 294.92m-3 0h6m-3-3v6m-2.4-5.4l4.8 4.8m-4.8 0l4.8-4.8M696.75 290.02m-3 0h6m-3-3v6m-2.4-5.4l4.8 4.8m-4.8 0l4.8-4.8M708.62 286.52m-3 0h6m-3-3v6m-2.4-5.4l4.8 4.8m-4.8 0l4.8-4.8M720.5 287.5m-3 0h6m-3-3v6m-2.4-5.4l4.8 4.8m-4.8 0l4.8-4.8M732.38 290.02m-3 0h6m-3-3v6m-2.4-5.4l4.8 4.8m-4.8 0l4.8-4.8M744.25 285.4m-3 0h6m-3-3v6m-2.4-5.4l4.8 4.8m-4.8 0l4.8-4.8M756.12 271.75m-3 0h6m-3-3v6m-2.4-5.4l4.8 4.8m-4.8 0l4.8-4.8M768 274.48m-3 0h6m-3-3v6m-2.4-5.4l4.8 4.8m-4.8 0l4.8-4.8M779.88 286.52m-3 0h6m-3-3v6m-2.4-5.4l4.8 4.8m-4.8 0l4.8-4.8M791.75 289.18m-3 0h6m-3-3v6m-2.4-5.4l4.8 4.8m-4.8 0l4.8-4.8M803.62 290.02m-3 0h6m-3-3v6m-2.4-5.4l4.8 4.8m-4.8 0l4.8-4.8M815.5 298.42m-3 0h6m-3-3v6m-2.4-5.4l4.8 4.8m-4.8 0l4.8-4.8M827.38 314.38m-3 0h6m-3-3v6m-2.4-5.4l4.8 4.8m-4.8 0l4.8-4.8M839.25 314.38m-3 0h6m-3-3v6m-2.4-5.4l4.8 4.8m-4.8 0l4.8-4.8M851.12 302.2m-3 0h6m-3-3v6m-2.4-5.4l4.8 4.8m-4.8 0l4.8-4.8M863 293.24m-3 0h6m-3-3v6m-2.4-5.4l4.8 4.8m-4.8 0l4.8-4.8M874.88 295.48m-3 0h6m-3-3v6m-2.4-5.4l4.8 4.8m-4.8 0l4.8-4.8M886.75 287.5m-3 0h6m-3-3v6m-2.4-5.4l4.8 4.8m-4.8 0l4.8-4.8M898.62 281.2m-3 0h6m-3-3v6m-2.4-5.4l4.8 4.8m-4.8 0l4.8-4.8M910.5 285.4m-3 0h6m-3-3v6m-2.4-5.4l4.8 4.8m-4.8 0l4.8-4.8M922.38 278.12m-3 0h6m-3-3v6m-2.4-5.4l4.8 4.8m-4.8 0l4.8-4.8M934.25 286.1m-3 0h6m-3-3v6m-2.4-5.4l4.8 4.8m-4.8 0l4.8-4.8M946.12 284.42m-3 0h6m-3-3v6m-2.4-5.4l4.8 4.8m-4.8 0l4.8-4.8M958 294.92m-3 0h6m-3-3v6m-2.4-5.4l4.8 4.8m-4.8 0l4.8-4.8"/>
</g>
<path class="k" d="M673 326h6.5M958 326h-6.5M673 319h3.5M958 319h-3.5M673 312h6.5M958 312h-6.5M673 305h3.5M958 305h-3.5M673 298h6.5M958 298h-6.5M673 291h3.5M958 291h-3.5M673 284h6.5M958 284h-6.5M673 277h3.5M958 277h-3.5M673 270h6.5M958 270h-6.5M673 263h3.5M958 263h-3.5M673 256h6.5M958 256h-6.5M673 249h3.5M958 249h-3.5M673 242h6.5M958 242h-6.5M673 242v6.5M673 326v-6.5M696.75 242v3.5M696.75 326v-3.5M720.5 242v6.5M720.5 326v-6.5M744.25 242v3.5M744.25 326v-3.5M768 242v6.5M768 326v-6.5M791.75 242v3.5M791.75 326v-3.5M815.5 242v6.5M815.5 326v-6.5M839.25 242v3.5M839.25 326v-3.5M863 242v6.5M863 326v-6.5M886.75 242v3.5M886.75 326v-3.5M910.5 242v6.5M910.5 326v-6.5M934.25 242v3.5M934.25 326v-3.5M958 242v6.5M958 326v-6.5"/>
<rect class="b" x="673" y="242" width="285" height="84"/>
<g clip-path="url(#e_CO)">
<path fill="none" stroke="#00ffff" stroke-width="1.05" d="M673 296.32m-3 0h6m-3-3v6m-2.4-5.4l4.8 4.8m-4.8 0l4.8-4.8M958 283.3m-3 0h6m-3-3v6m-2.4-5.4l4.8 4.8m-4.8 0l4.8-4.8"/>
<path fill="none" stroke="#00ff00" stroke-width="1.05" d="M673 282.32m-3 0h6m-3-3v6m-2.4-5.4l4.8 4.8m-4.8 0l4.8-4.8M898.62 245.5m-3 0h6m-3-3v6m-2.4-5.4l4.8 4.8m-4.8 0l4.8-4.8M958 255.3m-3 0h6m-3-3v6m-2.4-5.4l4.8 4.8m-4.8 0l4.8-4.8"/>
<path fill="none" stroke="#0000ff" stroke-width="1.05" d="M673 255.3m-3 0h6m-3-3v6m-2.4-5.4l4.8 4.8m-4.8 0l4.8-4.8M958 293.8m-3 0h6m-3-3v6m-2.4-5.4l4.8 4.8m-4.8 0l4.8-4.8"/>
<path fill="none" stroke="#ff0000" stroke-width="1.05" d="M673 293.24m-3 0h6m-3-3v6m-2.4-5.4l4.8 4.8m-4.8 0l4.8-4.8M958 294.92m-3 0h6m-3-3v6m-2.4-5.4l4.8 4.8m-4.8 0l4.8-4.8"/>
</g>
<path class="g" d="M674 312H957M674 298H957M674 284H957M674 270H957M674 256H957M720.5 243V325M768 243V325M815.5 243V325M863 243V325M910.5 243V325"/>
<text class="t" text-anchor="end" x="668.4" y="328.55">0.5</text><text class="t" text-anchor="end" x="668.4" y="314.55">0.6</text><text class="t" text-anchor="end" x="668.4" y="300.55">0.7</text><text class="t" text-anchor="end" x="668.4" y="286.55">0.8</text><text class="t" text-anchor="end" x="668.4" y="272.55">0.9</text><text class="t" text-anchor="end" x="668.4" y="258.55">1.0</text><text class="t" text-anchor="end" x="668.4" y="244.55">1.1</text>
<text class="t" text-anchor="middle" x="673.2" y="336.8">0</text><text class="t" text-anchor="middle" x="720.7" y="336.8">4</text><text class="t" text-anchor="middle" x="768.2" y="336.8">8</text><text class="t" text-anchor="middle" x="815.7" y="336.8">12</text><text class="t" text-anchor="middle" x="863.2" y="336.8">16</text><text class="t" text-anchor="middle" x="910.7" y="336.8">20</text><text class="t" text-anchor="middle" x="958.2" y="336.8">24</text>
<text class="p" x="918.7" y="238.5" textLength="10.2" lengthAdjust="spacingAndGlyphs">CO</text><text class="p" x="933" y="238.5" textLength="26.1" lengthAdjust="spacingAndGlyphs">(ppm)</text>
</g>
</svg>
</body></html>
